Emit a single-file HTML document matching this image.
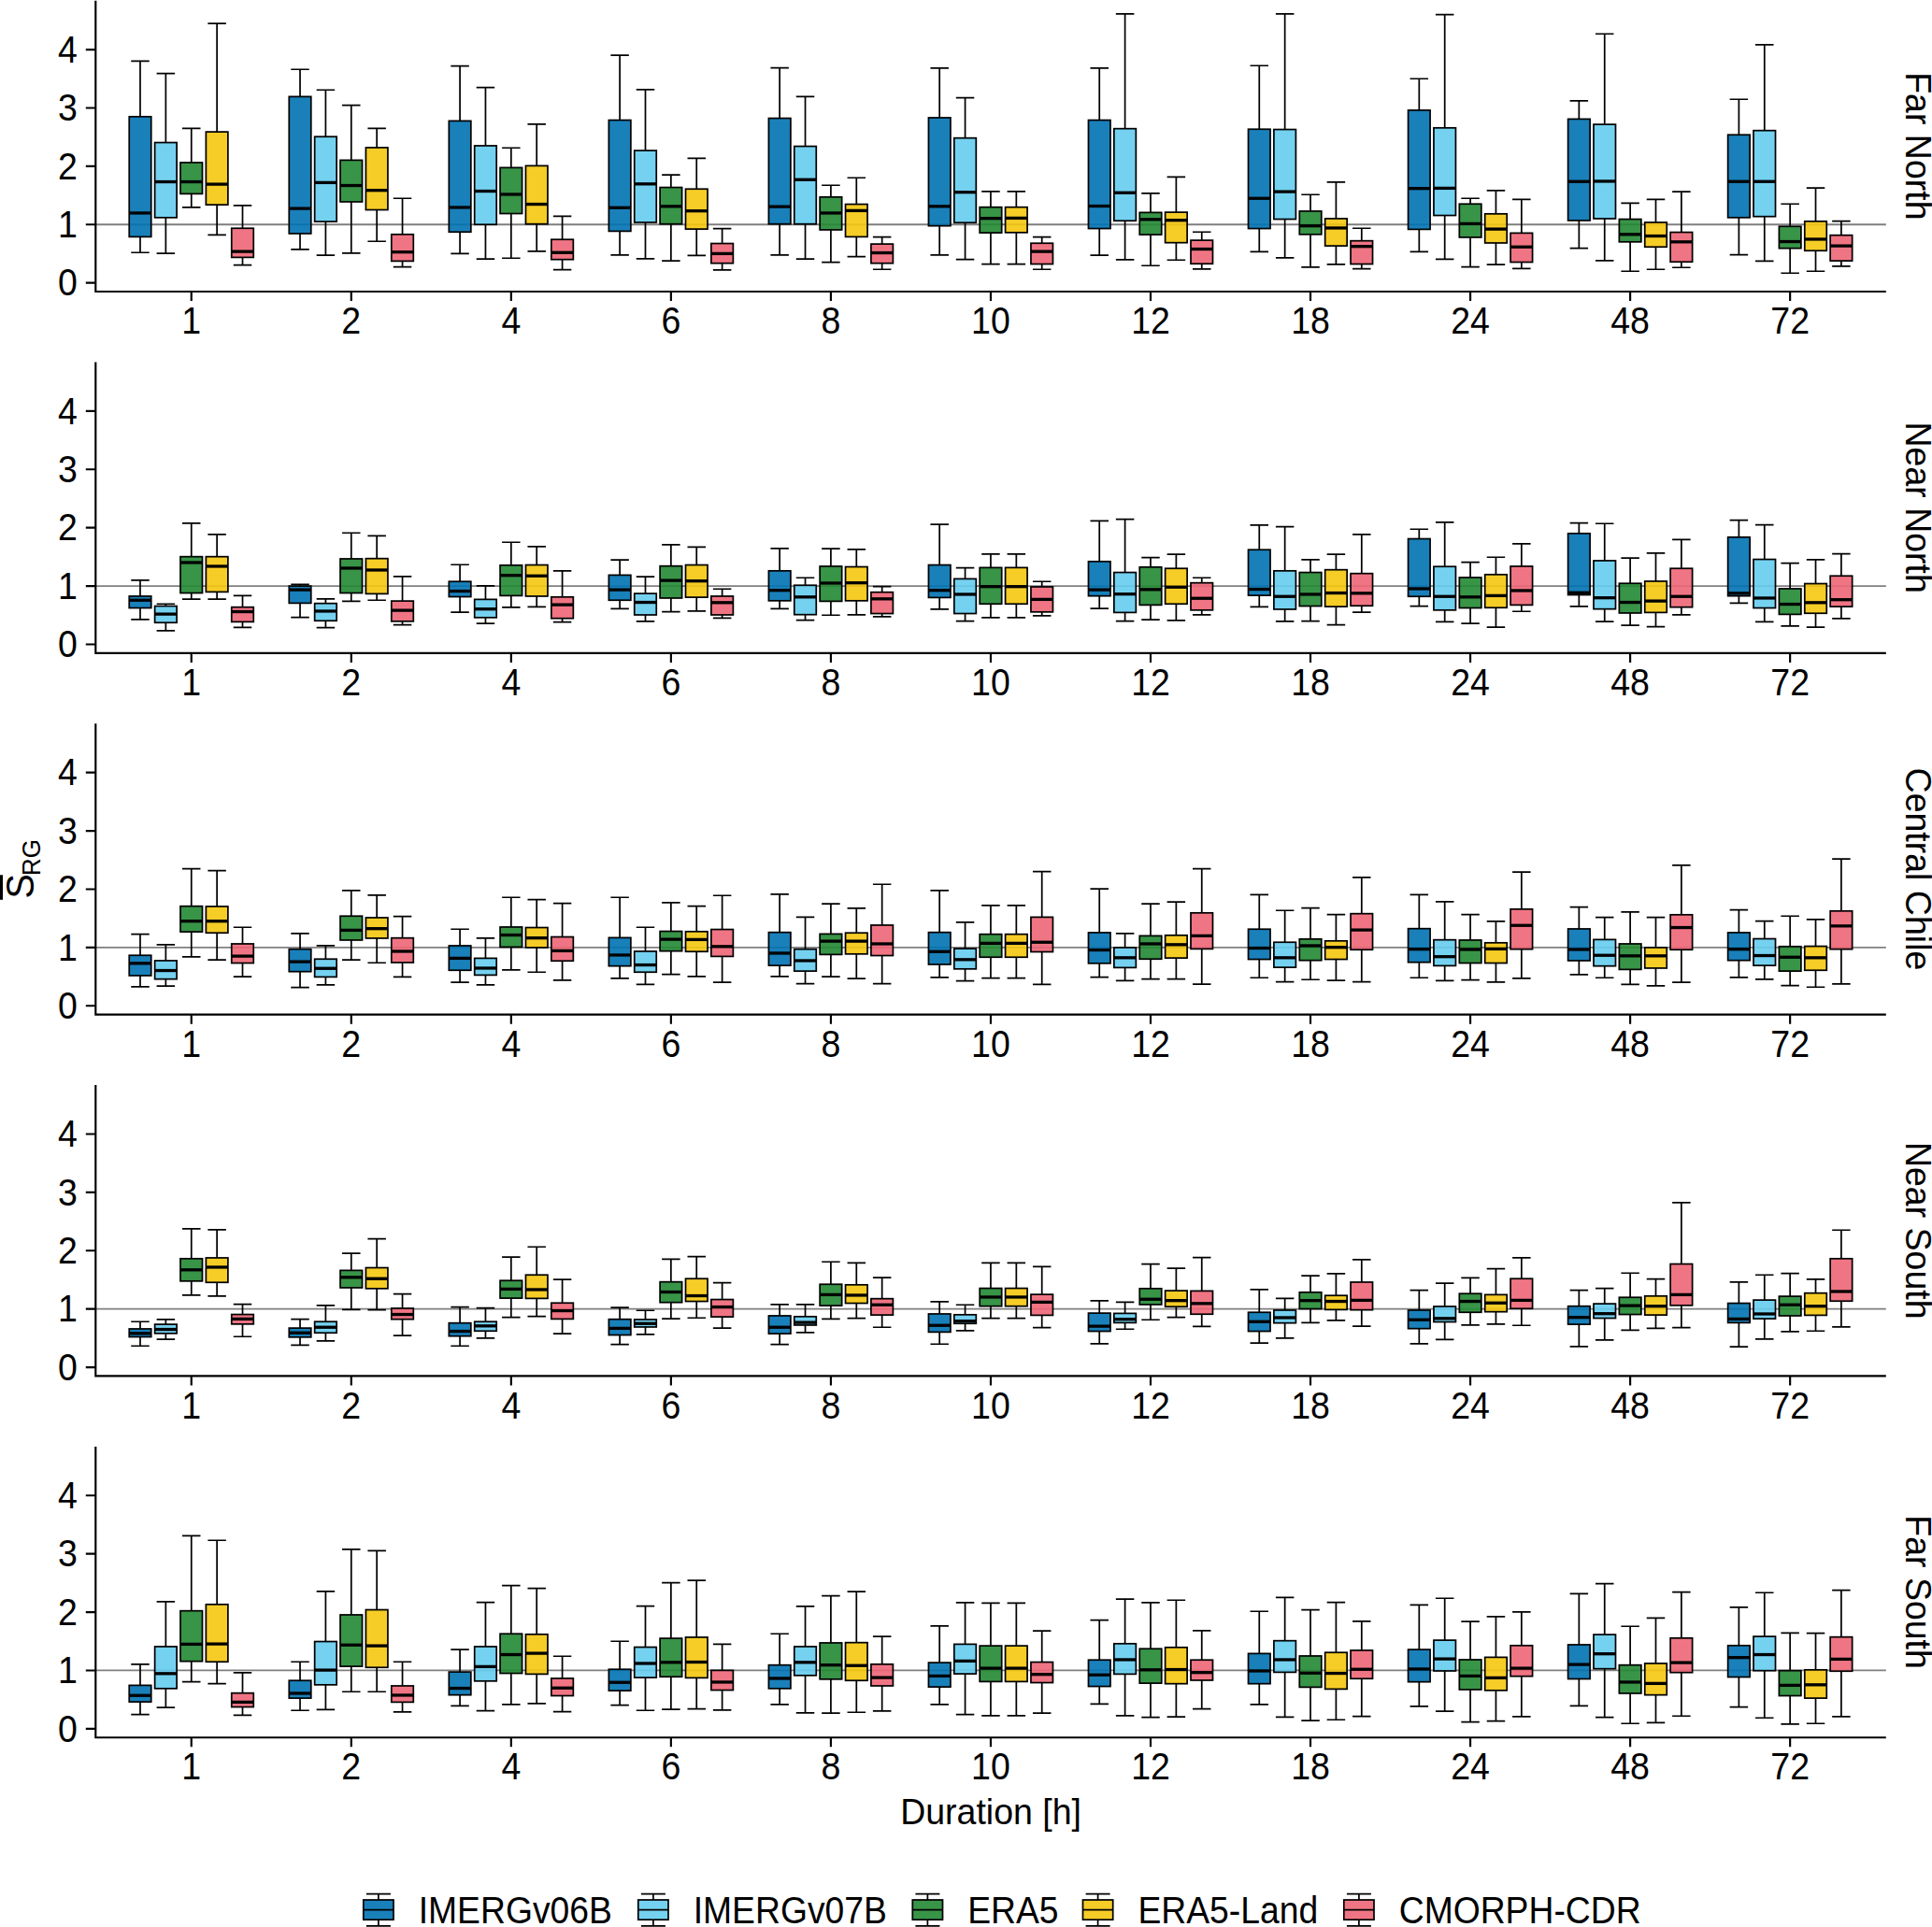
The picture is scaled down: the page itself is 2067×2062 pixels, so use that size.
<!DOCTYPE html>
<html><head><meta charset="utf-8"><title>Boxplots</title>
<style>html,body{margin:0;padding:0;background:#fff}svg{display:block}</style></head>
<body>
<svg width="2067" height="2062" viewBox="0 0 2067 2062" font-family='"Liberation Sans", sans-serif' font-size="37.5" fill="#000">
<rect width="2067" height="2062" fill="#fff"/>
<g>
<line x1="102.3" x2="2017.8" y1="240.25" y2="240.25" stroke="#7f7f7f" stroke-width="1.8"/>
<path d="M149.99 65.39V124.82M149.99 253.39V270.25M140.24 65.39H159.74M140.24 270.25H159.74" stroke="#000" stroke-width="1.72" fill="none"/>
<rect x="138.24" y="124.82" width="23.5" height="128.57" fill="#0072B2" fill-opacity="0.9" stroke="#000" stroke-width="1.72"/>
<line x1="138.24" x2="161.74" y1="227.96" y2="227.96" stroke="#000" stroke-width="3.3"/>
<path d="M177.37 78.54V152.54M177.37 232.82V271.11M167.62 78.54H187.12M167.62 271.11H187.12" stroke="#000" stroke-width="1.72" fill="none"/>
<rect x="165.62" y="152.54" width="23.5" height="80.29" fill="#66CCEE" fill-opacity="0.9" stroke="#000" stroke-width="1.72"/>
<line x1="165.62" x2="189.12" y1="194.54" y2="194.54" stroke="#000" stroke-width="3.3"/>
<path d="M204.75 137.39V173.96M204.75 207.39V221.96M195 137.39H214.5M195 221.96H214.5" stroke="#000" stroke-width="1.72" fill="none"/>
<rect x="193" y="173.96" width="23.5" height="33.43" fill="#228833" fill-opacity="0.9" stroke="#000" stroke-width="1.72"/>
<line x1="193" x2="216.5" y1="194.54" y2="194.54" stroke="#000" stroke-width="3.3"/>
<path d="M232.13 25.11V141.11M232.13 219.11V251.39M222.38 25.11H241.88M222.38 251.39H241.88" stroke="#000" stroke-width="1.72" fill="none"/>
<rect x="220.38" y="141.11" width="23.5" height="78" fill="#F5C710" fill-opacity="0.9" stroke="#000" stroke-width="1.72"/>
<line x1="220.38" x2="243.88" y1="197.11" y2="197.11" stroke="#000" stroke-width="3.3"/>
<path d="M259.51 219.96V244.25M259.51 275.39V283.68M249.76 219.96H269.26M249.76 283.68H269.26" stroke="#000" stroke-width="1.72" fill="none"/>
<rect x="247.76" y="244.25" width="23.5" height="31.14" fill="#EE6677" fill-opacity="0.9" stroke="#000" stroke-width="1.72"/>
<line x1="247.76" x2="271.26" y1="269.11" y2="269.11" stroke="#000" stroke-width="3.3"/>
<path d="M321.03 74.25V103.39M321.03 249.96V266.82M311.28 74.25H330.78M311.28 266.82H330.78" stroke="#000" stroke-width="1.72" fill="none"/>
<rect x="309.28" y="103.39" width="23.5" height="146.57" fill="#0072B2" fill-opacity="0.9" stroke="#000" stroke-width="1.72"/>
<line x1="309.28" x2="332.78" y1="223.11" y2="223.11" stroke="#000" stroke-width="3.3"/>
<path d="M348.41 96.25V146.25M348.41 237.11V273.11M338.66 96.25H358.16M338.66 273.11H358.16" stroke="#000" stroke-width="1.72" fill="none"/>
<rect x="336.66" y="146.25" width="23.5" height="90.86" fill="#66CCEE" fill-opacity="0.9" stroke="#000" stroke-width="1.72"/>
<line x1="336.66" x2="360.16" y1="195.39" y2="195.39" stroke="#000" stroke-width="3.3"/>
<path d="M375.79 112.54V171.39M375.79 215.96V270.82M366.04 112.54H385.54M366.04 270.82H385.54" stroke="#000" stroke-width="1.72" fill="none"/>
<rect x="364.04" y="171.39" width="23.5" height="44.57" fill="#228833" fill-opacity="0.9" stroke="#000" stroke-width="1.72"/>
<line x1="364.04" x2="387.54" y1="198.54" y2="198.54" stroke="#000" stroke-width="3.3"/>
<path d="M403.17 137.39V157.96M403.17 224.54V258.25M393.42 137.39H412.92M393.42 258.25H412.92" stroke="#000" stroke-width="1.72" fill="none"/>
<rect x="391.42" y="157.96" width="23.5" height="66.57" fill="#F5C710" fill-opacity="0.9" stroke="#000" stroke-width="1.72"/>
<line x1="391.42" x2="414.92" y1="203.68" y2="203.68" stroke="#000" stroke-width="3.3"/>
<path d="M430.55 212.25V250.82M430.55 279.39V285.68M420.8 212.25H440.3M420.8 285.68H440.3" stroke="#000" stroke-width="1.72" fill="none"/>
<rect x="418.8" y="250.82" width="23.5" height="28.57" fill="#EE6677" fill-opacity="0.9" stroke="#000" stroke-width="1.72"/>
<line x1="418.8" x2="442.3" y1="269.68" y2="269.68" stroke="#000" stroke-width="3.3"/>
<path d="M492.07 70.54V129.39M492.07 248.25V271.39M482.32 70.54H501.82M482.32 271.39H501.82" stroke="#000" stroke-width="1.72" fill="none"/>
<rect x="480.32" y="129.39" width="23.5" height="118.86" fill="#0072B2" fill-opacity="0.9" stroke="#000" stroke-width="1.72"/>
<line x1="480.32" x2="503.82" y1="221.96" y2="221.96" stroke="#000" stroke-width="3.3"/>
<path d="M519.45 93.68V155.96M519.45 240.25V277.11M509.7 93.68H529.2M509.7 277.11H529.2" stroke="#000" stroke-width="1.72" fill="none"/>
<rect x="507.7" y="155.96" width="23.5" height="84.29" fill="#66CCEE" fill-opacity="0.9" stroke="#000" stroke-width="1.72"/>
<line x1="507.7" x2="531.2" y1="204.54" y2="204.54" stroke="#000" stroke-width="3.3"/>
<path d="M546.83 158.25V179.39M546.83 228.54V276.25M537.08 158.25H556.58M537.08 276.25H556.58" stroke="#000" stroke-width="1.72" fill="none"/>
<rect x="535.08" y="179.39" width="23.5" height="49.14" fill="#228833" fill-opacity="0.9" stroke="#000" stroke-width="1.72"/>
<line x1="535.08" x2="558.58" y1="207.96" y2="207.96" stroke="#000" stroke-width="3.3"/>
<path d="M574.21 132.82V177.39M574.21 239.68V268.82M564.46 132.82H583.96M564.46 268.82H583.96" stroke="#000" stroke-width="1.72" fill="none"/>
<rect x="562.46" y="177.39" width="23.5" height="62.29" fill="#F5C710" fill-opacity="0.9" stroke="#000" stroke-width="1.72"/>
<line x1="562.46" x2="585.96" y1="218.54" y2="218.54" stroke="#000" stroke-width="3.3"/>
<path d="M601.59 231.39V256.25M601.59 277.68V288.54M591.84 231.39H611.34M591.84 288.54H611.34" stroke="#000" stroke-width="1.72" fill="none"/>
<rect x="589.84" y="256.25" width="23.5" height="21.43" fill="#EE6677" fill-opacity="0.9" stroke="#000" stroke-width="1.72"/>
<line x1="589.84" x2="613.34" y1="270.25" y2="270.25" stroke="#000" stroke-width="3.3"/>
<path d="M663.11 59.11V128.54M663.11 247.39V272.82M653.36 59.11H672.86M653.36 272.82H672.86" stroke="#000" stroke-width="1.72" fill="none"/>
<rect x="651.36" y="128.54" width="23.5" height="118.86" fill="#0072B2" fill-opacity="0.9" stroke="#000" stroke-width="1.72"/>
<line x1="651.36" x2="674.86" y1="222.25" y2="222.25" stroke="#000" stroke-width="3.3"/>
<path d="M690.49 95.96V161.11M690.49 237.96V276.82M680.74 95.96H700.24M680.74 276.82H700.24" stroke="#000" stroke-width="1.72" fill="none"/>
<rect x="678.74" y="161.11" width="23.5" height="76.86" fill="#66CCEE" fill-opacity="0.9" stroke="#000" stroke-width="1.72"/>
<line x1="678.74" x2="702.24" y1="196.82" y2="196.82" stroke="#000" stroke-width="3.3"/>
<path d="M717.87 187.11V200.54M717.87 239.68V279.11M708.12 187.11H727.62M708.12 279.11H727.62" stroke="#000" stroke-width="1.72" fill="none"/>
<rect x="706.12" y="200.54" width="23.5" height="39.14" fill="#228833" fill-opacity="0.9" stroke="#000" stroke-width="1.72"/>
<line x1="706.12" x2="729.62" y1="220.82" y2="220.82" stroke="#000" stroke-width="3.3"/>
<path d="M745.25 169.39V202.25M745.25 245.11V273.39M735.5 169.39H755M735.5 273.39H755" stroke="#000" stroke-width="1.72" fill="none"/>
<rect x="733.5" y="202.25" width="23.5" height="42.86" fill="#F5C710" fill-opacity="0.9" stroke="#000" stroke-width="1.72"/>
<line x1="733.5" x2="757" y1="225.68" y2="225.68" stroke="#000" stroke-width="3.3"/>
<path d="M772.63 244.54V260.54M772.63 281.68V288.82M762.88 244.54H782.38M762.88 288.82H782.38" stroke="#000" stroke-width="1.72" fill="none"/>
<rect x="760.88" y="260.54" width="23.5" height="21.14" fill="#EE6677" fill-opacity="0.9" stroke="#000" stroke-width="1.72"/>
<line x1="760.88" x2="784.38" y1="271.39" y2="271.39" stroke="#000" stroke-width="3.3"/>
<path d="M834.15 72.54V126.54M834.15 239.68V272.82M824.4 72.54H843.9M824.4 272.82H843.9" stroke="#000" stroke-width="1.72" fill="none"/>
<rect x="822.4" y="126.54" width="23.5" height="113.14" fill="#0072B2" fill-opacity="0.9" stroke="#000" stroke-width="1.72"/>
<line x1="822.4" x2="845.9" y1="221.11" y2="221.11" stroke="#000" stroke-width="3.3"/>
<path d="M861.53 103.39V156.54M861.53 239.68V277.11M851.78 103.39H871.28M851.78 277.11H871.28" stroke="#000" stroke-width="1.72" fill="none"/>
<rect x="849.78" y="156.54" width="23.5" height="83.14" fill="#66CCEE" fill-opacity="0.9" stroke="#000" stroke-width="1.72"/>
<line x1="849.78" x2="873.28" y1="192.25" y2="192.25" stroke="#000" stroke-width="3.3"/>
<path d="M888.91 198.25V210.82M888.91 245.96V280.54M879.16 198.25H898.66M879.16 280.54H898.66" stroke="#000" stroke-width="1.72" fill="none"/>
<rect x="877.16" y="210.82" width="23.5" height="35.14" fill="#228833" fill-opacity="0.9" stroke="#000" stroke-width="1.72"/>
<line x1="877.16" x2="900.66" y1="227.96" y2="227.96" stroke="#000" stroke-width="3.3"/>
<path d="M916.29 190.25V218.54M916.29 253.39V274.54M906.54 190.25H926.04M906.54 274.54H926.04" stroke="#000" stroke-width="1.72" fill="none"/>
<rect x="904.54" y="218.54" width="23.5" height="34.86" fill="#F5C710" fill-opacity="0.9" stroke="#000" stroke-width="1.72"/>
<line x1="904.54" x2="928.04" y1="225.39" y2="225.39" stroke="#000" stroke-width="3.3"/>
<path d="M943.67 253.68V261.11M943.67 281.68V288.25M933.92 253.68H953.42M933.92 288.25H953.42" stroke="#000" stroke-width="1.72" fill="none"/>
<rect x="931.92" y="261.11" width="23.5" height="20.57" fill="#EE6677" fill-opacity="0.9" stroke="#000" stroke-width="1.72"/>
<line x1="931.92" x2="955.42" y1="270.54" y2="270.54" stroke="#000" stroke-width="3.3"/>
<path d="M1005.19 72.82V125.96M1005.19 241.68V272.82M995.44 72.82H1014.94M995.44 272.82H1014.94" stroke="#000" stroke-width="1.72" fill="none"/>
<rect x="993.44" y="125.96" width="23.5" height="115.71" fill="#0072B2" fill-opacity="0.9" stroke="#000" stroke-width="1.72"/>
<line x1="993.44" x2="1016.94" y1="220.82" y2="220.82" stroke="#000" stroke-width="3.3"/>
<path d="M1032.57 104.54V147.68M1032.57 238.25V277.68M1022.82 104.54H1042.32M1022.82 277.68H1042.32" stroke="#000" stroke-width="1.72" fill="none"/>
<rect x="1020.82" y="147.68" width="23.5" height="90.57" fill="#66CCEE" fill-opacity="0.9" stroke="#000" stroke-width="1.72"/>
<line x1="1020.82" x2="1044.32" y1="205.68" y2="205.68" stroke="#000" stroke-width="3.3"/>
<path d="M1059.95 204.82V221.68M1059.95 249.11V282.54M1050.2 204.82H1069.7M1050.2 282.54H1069.7" stroke="#000" stroke-width="1.72" fill="none"/>
<rect x="1048.2" y="221.68" width="23.5" height="27.43" fill="#228833" fill-opacity="0.9" stroke="#000" stroke-width="1.72"/>
<line x1="1048.2" x2="1071.7" y1="233.68" y2="233.68" stroke="#000" stroke-width="3.3"/>
<path d="M1087.33 204.82V221.68M1087.33 248.82V282.54M1077.58 204.82H1097.08M1077.58 282.54H1097.08" stroke="#000" stroke-width="1.72" fill="none"/>
<rect x="1075.58" y="221.68" width="23.5" height="27.14" fill="#F5C710" fill-opacity="0.9" stroke="#000" stroke-width="1.72"/>
<line x1="1075.58" x2="1099.08" y1="233.39" y2="233.39" stroke="#000" stroke-width="3.3"/>
<path d="M1114.71 253.68V260.25M1114.71 282.54V288.25M1104.96 253.68H1124.46M1104.96 288.25H1124.46" stroke="#000" stroke-width="1.72" fill="none"/>
<rect x="1102.96" y="260.25" width="23.5" height="22.29" fill="#EE6677" fill-opacity="0.9" stroke="#000" stroke-width="1.72"/>
<line x1="1102.96" x2="1126.46" y1="269.11" y2="269.11" stroke="#000" stroke-width="3.3"/>
<path d="M1176.23 72.82V128.54M1176.23 244.54V273.11M1166.48 72.82H1185.98M1166.48 273.11H1185.98" stroke="#000" stroke-width="1.72" fill="none"/>
<rect x="1164.48" y="128.54" width="23.5" height="116" fill="#0072B2" fill-opacity="0.9" stroke="#000" stroke-width="1.72"/>
<line x1="1164.48" x2="1187.98" y1="220.54" y2="220.54" stroke="#000" stroke-width="3.3"/>
<path d="M1203.61 14.82V137.68M1203.61 236.25V277.96M1193.86 14.82H1213.36M1193.86 277.96H1213.36" stroke="#000" stroke-width="1.72" fill="none"/>
<rect x="1191.86" y="137.68" width="23.5" height="98.57" fill="#66CCEE" fill-opacity="0.9" stroke="#000" stroke-width="1.72"/>
<line x1="1191.86" x2="1215.36" y1="206.25" y2="206.25" stroke="#000" stroke-width="3.3"/>
<path d="M1230.99 206.82V227.39M1230.99 251.11V284.25M1221.24 206.82H1240.74M1221.24 284.25H1240.74" stroke="#000" stroke-width="1.72" fill="none"/>
<rect x="1219.24" y="227.39" width="23.5" height="23.71" fill="#228833" fill-opacity="0.9" stroke="#000" stroke-width="1.72"/>
<line x1="1219.24" x2="1242.74" y1="234.82" y2="234.82" stroke="#000" stroke-width="3.3"/>
<path d="M1258.37 189.39V227.11M1258.37 259.68V278.25M1248.62 189.39H1268.12M1248.62 278.25H1268.12" stroke="#000" stroke-width="1.72" fill="none"/>
<rect x="1246.62" y="227.11" width="23.5" height="32.57" fill="#F5C710" fill-opacity="0.9" stroke="#000" stroke-width="1.72"/>
<line x1="1246.62" x2="1270.12" y1="235.68" y2="235.68" stroke="#000" stroke-width="3.3"/>
<path d="M1285.75 248.25V257.11M1285.75 282.25V287.96M1276 248.25H1295.5M1276 287.96H1295.5" stroke="#000" stroke-width="1.72" fill="none"/>
<rect x="1274" y="257.11" width="23.5" height="25.14" fill="#EE6677" fill-opacity="0.9" stroke="#000" stroke-width="1.72"/>
<line x1="1274" x2="1297.5" y1="266.54" y2="266.54" stroke="#000" stroke-width="3.3"/>
<path d="M1347.27 70.25V138.25M1347.27 244.54V269.39M1337.52 70.25H1357.02M1337.52 269.39H1357.02" stroke="#000" stroke-width="1.72" fill="none"/>
<rect x="1335.52" y="138.25" width="23.5" height="106.29" fill="#0072B2" fill-opacity="0.9" stroke="#000" stroke-width="1.72"/>
<line x1="1335.52" x2="1359.02" y1="212.25" y2="212.25" stroke="#000" stroke-width="3.3"/>
<path d="M1374.65 14.82V138.54M1374.65 234.54V275.96M1364.9 14.82H1384.4M1364.9 275.96H1384.4" stroke="#000" stroke-width="1.72" fill="none"/>
<rect x="1362.9" y="138.54" width="23.5" height="96" fill="#66CCEE" fill-opacity="0.9" stroke="#000" stroke-width="1.72"/>
<line x1="1362.9" x2="1386.4" y1="205.11" y2="205.11" stroke="#000" stroke-width="3.3"/>
<path d="M1402.03 208.25V225.96M1402.03 250.82V285.96M1392.28 208.25H1411.78M1392.28 285.96H1411.78" stroke="#000" stroke-width="1.72" fill="none"/>
<rect x="1390.28" y="225.96" width="23.5" height="24.86" fill="#228833" fill-opacity="0.9" stroke="#000" stroke-width="1.72"/>
<line x1="1390.28" x2="1413.78" y1="241.68" y2="241.68" stroke="#000" stroke-width="3.3"/>
<path d="M1429.41 194.82V233.96M1429.41 263.11V282.82M1419.66 194.82H1439.16M1419.66 282.82H1439.16" stroke="#000" stroke-width="1.72" fill="none"/>
<rect x="1417.66" y="233.96" width="23.5" height="29.14" fill="#F5C710" fill-opacity="0.9" stroke="#000" stroke-width="1.72"/>
<line x1="1417.66" x2="1441.16" y1="243.96" y2="243.96" stroke="#000" stroke-width="3.3"/>
<path d="M1456.79 244.25V257.68M1456.79 282.54V287.68M1447.04 244.25H1466.54M1447.04 287.68H1466.54" stroke="#000" stroke-width="1.72" fill="none"/>
<rect x="1445.04" y="257.68" width="23.5" height="24.86" fill="#EE6677" fill-opacity="0.9" stroke="#000" stroke-width="1.72"/>
<line x1="1445.04" x2="1468.54" y1="263.68" y2="263.68" stroke="#000" stroke-width="3.3"/>
<path d="M1518.31 84.25V117.96M1518.31 245.39V269.39M1508.56 84.25H1528.06M1508.56 269.39H1528.06" stroke="#000" stroke-width="1.72" fill="none"/>
<rect x="1506.56" y="117.96" width="23.5" height="127.43" fill="#0072B2" fill-opacity="0.9" stroke="#000" stroke-width="1.72"/>
<line x1="1506.56" x2="1530.06" y1="201.68" y2="201.68" stroke="#000" stroke-width="3.3"/>
<path d="M1545.69 15.68V136.82M1545.69 230.54V277.39M1535.94 15.68H1555.44M1535.94 277.39H1555.44" stroke="#000" stroke-width="1.72" fill="none"/>
<rect x="1533.94" y="136.82" width="23.5" height="93.71" fill="#66CCEE" fill-opacity="0.9" stroke="#000" stroke-width="1.72"/>
<line x1="1533.94" x2="1557.44" y1="201.39" y2="201.39" stroke="#000" stroke-width="3.3"/>
<path d="M1573.07 212.25V218.25M1573.07 253.96V285.68M1563.32 212.25H1582.82M1563.32 285.68H1582.82" stroke="#000" stroke-width="1.72" fill="none"/>
<rect x="1561.32" y="218.25" width="23.5" height="35.71" fill="#228833" fill-opacity="0.9" stroke="#000" stroke-width="1.72"/>
<line x1="1561.32" x2="1584.82" y1="239.39" y2="239.39" stroke="#000" stroke-width="3.3"/>
<path d="M1600.45 203.96V228.82M1600.45 259.96V283.11M1590.7 203.96H1610.2M1590.7 283.11H1610.2" stroke="#000" stroke-width="1.72" fill="none"/>
<rect x="1588.7" y="228.82" width="23.5" height="31.14" fill="#F5C710" fill-opacity="0.9" stroke="#000" stroke-width="1.72"/>
<line x1="1588.7" x2="1612.2" y1="245.11" y2="245.11" stroke="#000" stroke-width="3.3"/>
<path d="M1627.83 213.39V249.39M1627.83 280.54V287.39M1618.08 213.39H1637.58M1618.08 287.39H1637.58" stroke="#000" stroke-width="1.72" fill="none"/>
<rect x="1616.08" y="249.39" width="23.5" height="31.14" fill="#EE6677" fill-opacity="0.9" stroke="#000" stroke-width="1.72"/>
<line x1="1616.08" x2="1639.58" y1="264.25" y2="264.25" stroke="#000" stroke-width="3.3"/>
<path d="M1689.35 107.96V127.39M1689.35 235.96V265.68M1679.6 107.96H1699.1M1679.6 265.68H1699.1" stroke="#000" stroke-width="1.72" fill="none"/>
<rect x="1677.6" y="127.39" width="23.5" height="108.57" fill="#0072B2" fill-opacity="0.9" stroke="#000" stroke-width="1.72"/>
<line x1="1677.6" x2="1701.1" y1="194.25" y2="194.25" stroke="#000" stroke-width="3.3"/>
<path d="M1716.73 36.25V133.11M1716.73 233.96V278.82M1706.98 36.25H1726.48M1706.98 278.82H1726.48" stroke="#000" stroke-width="1.72" fill="none"/>
<rect x="1704.98" y="133.11" width="23.5" height="100.86" fill="#66CCEE" fill-opacity="0.9" stroke="#000" stroke-width="1.72"/>
<line x1="1704.98" x2="1728.48" y1="193.96" y2="193.96" stroke="#000" stroke-width="3.3"/>
<path d="M1744.11 217.39V234.54M1744.11 258.82V290.25M1734.36 217.39H1753.86M1734.36 290.25H1753.86" stroke="#000" stroke-width="1.72" fill="none"/>
<rect x="1732.36" y="234.54" width="23.5" height="24.29" fill="#228833" fill-opacity="0.9" stroke="#000" stroke-width="1.72"/>
<line x1="1732.36" x2="1755.86" y1="250.82" y2="250.82" stroke="#000" stroke-width="3.3"/>
<path d="M1771.49 213.39V237.96M1771.49 264.25V288.25M1761.74 213.39H1781.24M1761.74 288.25H1781.24" stroke="#000" stroke-width="1.72" fill="none"/>
<rect x="1759.74" y="237.96" width="23.5" height="26.29" fill="#F5C710" fill-opacity="0.9" stroke="#000" stroke-width="1.72"/>
<line x1="1759.74" x2="1783.24" y1="252.54" y2="252.54" stroke="#000" stroke-width="3.3"/>
<path d="M1798.87 205.11V248.54M1798.87 280.25V286.25M1789.12 205.11H1808.62M1789.12 286.25H1808.62" stroke="#000" stroke-width="1.72" fill="none"/>
<rect x="1787.12" y="248.54" width="23.5" height="31.71" fill="#EE6677" fill-opacity="0.9" stroke="#000" stroke-width="1.72"/>
<line x1="1787.12" x2="1810.62" y1="258.82" y2="258.82" stroke="#000" stroke-width="3.3"/>
<path d="M1860.39 106.25V144.25M1860.39 232.82V272.54M1850.64 106.25H1870.14M1850.64 272.54H1870.14" stroke="#000" stroke-width="1.72" fill="none"/>
<rect x="1848.64" y="144.25" width="23.5" height="88.57" fill="#0072B2" fill-opacity="0.9" stroke="#000" stroke-width="1.72"/>
<line x1="1848.64" x2="1872.14" y1="194.25" y2="194.25" stroke="#000" stroke-width="3.3"/>
<path d="M1887.77 47.96V139.68M1887.77 231.68V279.39M1878.02 47.96H1897.52M1878.02 279.39H1897.52" stroke="#000" stroke-width="1.72" fill="none"/>
<rect x="1876.02" y="139.68" width="23.5" height="92" fill="#66CCEE" fill-opacity="0.9" stroke="#000" stroke-width="1.72"/>
<line x1="1876.02" x2="1899.52" y1="194.25" y2="194.25" stroke="#000" stroke-width="3.3"/>
<path d="M1915.15 218.25V242.25M1915.15 265.68V292.25M1905.4 218.25H1924.9M1905.4 292.25H1924.9" stroke="#000" stroke-width="1.72" fill="none"/>
<rect x="1903.4" y="242.25" width="23.5" height="23.43" fill="#228833" fill-opacity="0.9" stroke="#000" stroke-width="1.72"/>
<line x1="1903.4" x2="1926.9" y1="258.54" y2="258.54" stroke="#000" stroke-width="3.3"/>
<path d="M1942.53 201.11V236.82M1942.53 268.25V290.25M1932.78 201.11H1952.28M1932.78 290.25H1952.28" stroke="#000" stroke-width="1.72" fill="none"/>
<rect x="1930.78" y="236.82" width="23.5" height="31.43" fill="#F5C710" fill-opacity="0.9" stroke="#000" stroke-width="1.72"/>
<line x1="1930.78" x2="1954.28" y1="255.96" y2="255.96" stroke="#000" stroke-width="3.3"/>
<path d="M1969.91 236.54V251.68M1969.91 279.11V284.82M1960.16 236.54H1979.66M1960.16 284.82H1979.66" stroke="#000" stroke-width="1.72" fill="none"/>
<rect x="1958.16" y="251.68" width="23.5" height="27.43" fill="#EE6677" fill-opacity="0.9" stroke="#000" stroke-width="1.72"/>
<line x1="1958.16" x2="1981.66" y1="263.11" y2="263.11" stroke="#000" stroke-width="3.3"/>
<path d="M102.3 0.7V312H2017.8" stroke="#000" stroke-width="2.15" fill="none" stroke-linejoin="miter"/>
<path d="M91.8 302.65H102.3M91.8 240.25H102.3M91.8 177.85H102.3M91.8 115.45H102.3M91.8 53.05H102.3M204.75 312V322.1M375.79 312V322.1M546.83 312V322.1M717.87 312V322.1M888.91 312V322.1M1059.95 312V322.1M1230.99 312V322.1M1402.03 312V322.1M1573.07 312V322.1M1744.11 312V322.1M1915.15 312V322.1" stroke="#000" stroke-width="2.15" fill="none"/>
<text transform="translate(82.8 316.45) scale(1 1.06)" text-anchor="end">0</text>
<text transform="translate(82.8 254.05) scale(1 1.06)" text-anchor="end">1</text>
<text transform="translate(82.8 191.65) scale(1 1.06)" text-anchor="end">2</text>
<text transform="translate(82.8 129.25) scale(1 1.06)" text-anchor="end">3</text>
<text transform="translate(82.8 66.85) scale(1 1.06)" text-anchor="end">4</text>
<text transform="translate(204.75 357.1) scale(1 1.06)" text-anchor="middle">1</text>
<text transform="translate(375.79 357.1) scale(1 1.06)" text-anchor="middle">2</text>
<text transform="translate(546.83 357.1) scale(1 1.06)" text-anchor="middle">4</text>
<text transform="translate(717.87 357.1) scale(1 1.06)" text-anchor="middle">6</text>
<text transform="translate(888.91 357.1) scale(1 1.06)" text-anchor="middle">8</text>
<text transform="translate(1059.95 357.1) scale(1 1.06)" text-anchor="middle">10</text>
<text transform="translate(1230.99 357.1) scale(1 1.06)" text-anchor="middle">12</text>
<text transform="translate(1402.03 357.1) scale(1 1.06)" text-anchor="middle">18</text>
<text transform="translate(1573.07 357.1) scale(1 1.06)" text-anchor="middle">24</text>
<text transform="translate(1744.11 357.1) scale(1 1.06)" text-anchor="middle">48</text>
<text transform="translate(1915.15 357.1) scale(1 1.06)" text-anchor="middle">72</text>
<text transform="translate(2038.9 156.35) rotate(90) scale(1 1.035)" text-anchor="middle">Far North</text>
</g>
<g>
<line x1="102.3" x2="2017.8" y1="627.05" y2="627.05" stroke="#7f7f7f" stroke-width="1.8"/>
<path d="M149.99 620.82V637.96M149.99 650.54V662.82M140.24 620.82H159.74M140.24 662.82H159.74" stroke="#000" stroke-width="1.72" fill="none"/>
<rect x="138.24" y="637.96" width="23.5" height="12.57" fill="#0072B2" fill-opacity="0.9" stroke="#000" stroke-width="1.72"/>
<line x1="138.24" x2="161.74" y1="642.25" y2="642.25" stroke="#000" stroke-width="3.3"/>
<path d="M177.37 646.25V648.54M177.37 666.25V674.82M167.62 646.25H187.12M167.62 674.82H187.12" stroke="#000" stroke-width="1.72" fill="none"/>
<rect x="165.62" y="648.54" width="23.5" height="17.71" fill="#66CCEE" fill-opacity="0.9" stroke="#000" stroke-width="1.72"/>
<line x1="165.62" x2="189.12" y1="657.11" y2="657.11" stroke="#000" stroke-width="3.3"/>
<path d="M204.75 559.96V595.68M204.75 634.54V641.11M195 559.96H214.5M195 641.11H214.5" stroke="#000" stroke-width="1.72" fill="none"/>
<rect x="193" y="595.68" width="23.5" height="38.86" fill="#228833" fill-opacity="0.9" stroke="#000" stroke-width="1.72"/>
<line x1="193" x2="216.5" y1="601.96" y2="601.96" stroke="#000" stroke-width="3.3"/>
<path d="M232.13 571.96V595.68M232.13 633.39V641.11M222.38 571.96H241.88M222.38 641.11H241.88" stroke="#000" stroke-width="1.72" fill="none"/>
<rect x="220.38" y="595.68" width="23.5" height="37.71" fill="#F5C710" fill-opacity="0.9" stroke="#000" stroke-width="1.72"/>
<line x1="220.38" x2="243.88" y1="605.96" y2="605.96" stroke="#000" stroke-width="3.3"/>
<path d="M259.51 637.39V649.68M259.51 665.39V671.39M249.76 637.39H269.26M249.76 671.39H269.26" stroke="#000" stroke-width="1.72" fill="none"/>
<rect x="247.76" y="649.68" width="23.5" height="15.71" fill="#EE6677" fill-opacity="0.9" stroke="#000" stroke-width="1.72"/>
<line x1="247.76" x2="271.26" y1="654.54" y2="654.54" stroke="#000" stroke-width="3.3"/>
<path d="M321.03 625.39V627.11M321.03 645.39V660.54M311.28 625.39H330.78M311.28 660.54H330.78" stroke="#000" stroke-width="1.72" fill="none"/>
<rect x="309.28" y="627.11" width="23.5" height="18.29" fill="#0072B2" fill-opacity="0.9" stroke="#000" stroke-width="1.72"/>
<line x1="309.28" x2="332.78" y1="631.11" y2="631.11" stroke="#000" stroke-width="3.3"/>
<path d="M348.41 640.82V645.68M348.41 664.25V671.68M338.66 640.82H358.16M338.66 671.68H358.16" stroke="#000" stroke-width="1.72" fill="none"/>
<rect x="336.66" y="645.68" width="23.5" height="18.57" fill="#66CCEE" fill-opacity="0.9" stroke="#000" stroke-width="1.72"/>
<line x1="336.66" x2="360.16" y1="653.96" y2="653.96" stroke="#000" stroke-width="3.3"/>
<path d="M375.79 570.25V597.96M375.79 634.54V643.39M366.04 570.25H385.54M366.04 643.39H385.54" stroke="#000" stroke-width="1.72" fill="none"/>
<rect x="364.04" y="597.96" width="23.5" height="36.57" fill="#228833" fill-opacity="0.9" stroke="#000" stroke-width="1.72"/>
<line x1="364.04" x2="387.54" y1="607.96" y2="607.96" stroke="#000" stroke-width="3.3"/>
<path d="M403.17 573.39V597.68M403.17 635.39V642.25M393.42 573.39H412.92M393.42 642.25H412.92" stroke="#000" stroke-width="1.72" fill="none"/>
<rect x="391.42" y="597.68" width="23.5" height="37.71" fill="#F5C710" fill-opacity="0.9" stroke="#000" stroke-width="1.72"/>
<line x1="391.42" x2="414.92" y1="609.96" y2="609.96" stroke="#000" stroke-width="3.3"/>
<path d="M430.55 616.82V643.11M430.55 664.82V668.54M420.8 616.82H440.3M420.8 668.54H440.3" stroke="#000" stroke-width="1.72" fill="none"/>
<rect x="418.8" y="643.11" width="23.5" height="21.71" fill="#EE6677" fill-opacity="0.9" stroke="#000" stroke-width="1.72"/>
<line x1="418.8" x2="442.3" y1="653.11" y2="653.11" stroke="#000" stroke-width="3.3"/>
<path d="M492.07 604.25V622.25M492.07 638.54V655.11M482.32 604.25H501.82M482.32 655.11H501.82" stroke="#000" stroke-width="1.72" fill="none"/>
<rect x="480.32" y="622.25" width="23.5" height="16.29" fill="#0072B2" fill-opacity="0.9" stroke="#000" stroke-width="1.72"/>
<line x1="480.32" x2="503.82" y1="632.54" y2="632.54" stroke="#000" stroke-width="3.3"/>
<path d="M519.45 626.82V641.39M519.45 660.82V667.11M509.7 626.82H529.2M509.7 667.11H529.2" stroke="#000" stroke-width="1.72" fill="none"/>
<rect x="507.7" y="641.39" width="23.5" height="19.43" fill="#66CCEE" fill-opacity="0.9" stroke="#000" stroke-width="1.72"/>
<line x1="507.7" x2="531.2" y1="651.68" y2="651.68" stroke="#000" stroke-width="3.3"/>
<path d="M546.83 580.25V604.82M546.83 637.39V649.96M537.08 580.25H556.58M537.08 649.96H556.58" stroke="#000" stroke-width="1.72" fill="none"/>
<rect x="535.08" y="604.82" width="23.5" height="32.57" fill="#228833" fill-opacity="0.9" stroke="#000" stroke-width="1.72"/>
<line x1="535.08" x2="558.58" y1="615.68" y2="615.68" stroke="#000" stroke-width="3.3"/>
<path d="M574.21 584.82V604.54M574.21 637.96V649.39M564.46 584.82H583.96M564.46 649.39H583.96" stroke="#000" stroke-width="1.72" fill="none"/>
<rect x="562.46" y="604.54" width="23.5" height="33.43" fill="#F5C710" fill-opacity="0.9" stroke="#000" stroke-width="1.72"/>
<line x1="562.46" x2="585.96" y1="616.25" y2="616.25" stroke="#000" stroke-width="3.3"/>
<path d="M601.59 610.82V638.82M601.59 661.68V665.68M591.84 610.82H611.34M591.84 665.68H611.34" stroke="#000" stroke-width="1.72" fill="none"/>
<rect x="589.84" y="638.82" width="23.5" height="22.86" fill="#EE6677" fill-opacity="0.9" stroke="#000" stroke-width="1.72"/>
<line x1="589.84" x2="613.34" y1="647.11" y2="647.11" stroke="#000" stroke-width="3.3"/>
<path d="M663.11 599.11V615.39M663.11 642.25V651.39M653.36 599.11H672.86M653.36 651.39H672.86" stroke="#000" stroke-width="1.72" fill="none"/>
<rect x="651.36" y="615.39" width="23.5" height="26.86" fill="#0072B2" fill-opacity="0.9" stroke="#000" stroke-width="1.72"/>
<line x1="651.36" x2="674.86" y1="631.11" y2="631.11" stroke="#000" stroke-width="3.3"/>
<path d="M690.49 617.11V635.11M690.49 657.96V664.82M680.74 617.11H700.24M680.74 664.82H700.24" stroke="#000" stroke-width="1.72" fill="none"/>
<rect x="678.74" y="635.11" width="23.5" height="22.86" fill="#66CCEE" fill-opacity="0.9" stroke="#000" stroke-width="1.72"/>
<line x1="678.74" x2="702.24" y1="644.54" y2="644.54" stroke="#000" stroke-width="3.3"/>
<path d="M717.87 582.82V605.68M717.87 639.96V654.54M708.12 582.82H727.62M708.12 654.54H727.62" stroke="#000" stroke-width="1.72" fill="none"/>
<rect x="706.12" y="605.68" width="23.5" height="34.29" fill="#228833" fill-opacity="0.9" stroke="#000" stroke-width="1.72"/>
<line x1="706.12" x2="729.62" y1="621.11" y2="621.11" stroke="#000" stroke-width="3.3"/>
<path d="M745.25 585.39V604.54M745.25 639.11V653.96M735.5 585.39H755M735.5 653.96H755" stroke="#000" stroke-width="1.72" fill="none"/>
<rect x="733.5" y="604.54" width="23.5" height="34.57" fill="#F5C710" fill-opacity="0.9" stroke="#000" stroke-width="1.72"/>
<line x1="733.5" x2="757" y1="621.68" y2="621.68" stroke="#000" stroke-width="3.3"/>
<path d="M772.63 630.25V637.96M772.63 657.96V661.39M762.88 630.25H782.38M762.88 661.39H782.38" stroke="#000" stroke-width="1.72" fill="none"/>
<rect x="760.88" y="637.96" width="23.5" height="20" fill="#EE6677" fill-opacity="0.9" stroke="#000" stroke-width="1.72"/>
<line x1="760.88" x2="784.38" y1="644.82" y2="644.82" stroke="#000" stroke-width="3.3"/>
<path d="M834.15 586.82V610.82M834.15 642.82V651.39M824.4 586.82H843.9M824.4 651.39H843.9" stroke="#000" stroke-width="1.72" fill="none"/>
<rect x="822.4" y="610.82" width="23.5" height="32" fill="#0072B2" fill-opacity="0.9" stroke="#000" stroke-width="1.72"/>
<line x1="822.4" x2="845.9" y1="631.68" y2="631.68" stroke="#000" stroke-width="3.3"/>
<path d="M861.53 618.25V626.25M861.53 657.68V663.68M851.78 618.25H871.28M851.78 663.68H871.28" stroke="#000" stroke-width="1.72" fill="none"/>
<rect x="849.78" y="626.25" width="23.5" height="31.43" fill="#66CCEE" fill-opacity="0.9" stroke="#000" stroke-width="1.72"/>
<line x1="849.78" x2="873.28" y1="638.82" y2="638.82" stroke="#000" stroke-width="3.3"/>
<path d="M888.91 587.11V605.96M888.91 643.39V658.25M879.16 587.11H898.66M879.16 658.25H898.66" stroke="#000" stroke-width="1.72" fill="none"/>
<rect x="877.16" y="605.96" width="23.5" height="37.43" fill="#228833" fill-opacity="0.9" stroke="#000" stroke-width="1.72"/>
<line x1="877.16" x2="900.66" y1="623.96" y2="623.96" stroke="#000" stroke-width="3.3"/>
<path d="M916.29 587.96V606.54M916.29 642.82V657.96M906.54 587.96H926.04M906.54 657.96H926.04" stroke="#000" stroke-width="1.72" fill="none"/>
<rect x="904.54" y="606.54" width="23.5" height="36.29" fill="#F5C710" fill-opacity="0.9" stroke="#000" stroke-width="1.72"/>
<line x1="904.54" x2="928.04" y1="623.68" y2="623.68" stroke="#000" stroke-width="3.3"/>
<path d="M943.67 627.68V633.68M943.67 656.54V659.96M933.92 627.68H953.42M933.92 659.96H953.42" stroke="#000" stroke-width="1.72" fill="none"/>
<rect x="931.92" y="633.68" width="23.5" height="22.86" fill="#EE6677" fill-opacity="0.9" stroke="#000" stroke-width="1.72"/>
<line x1="931.92" x2="955.42" y1="640.82" y2="640.82" stroke="#000" stroke-width="3.3"/>
<path d="M1005.19 561.11V604.54M1005.19 639.39V651.96M995.44 561.11H1014.94M995.44 651.96H1014.94" stroke="#000" stroke-width="1.72" fill="none"/>
<rect x="993.44" y="604.54" width="23.5" height="34.86" fill="#0072B2" fill-opacity="0.9" stroke="#000" stroke-width="1.72"/>
<line x1="993.44" x2="1016.94" y1="631.68" y2="631.68" stroke="#000" stroke-width="3.3"/>
<path d="M1032.57 607.68V619.39M1032.57 656.54V664.54M1022.82 607.68H1042.32M1022.82 664.54H1042.32" stroke="#000" stroke-width="1.72" fill="none"/>
<rect x="1020.82" y="619.39" width="23.5" height="37.14" fill="#66CCEE" fill-opacity="0.9" stroke="#000" stroke-width="1.72"/>
<line x1="1020.82" x2="1044.32" y1="635.96" y2="635.96" stroke="#000" stroke-width="3.3"/>
<path d="M1059.95 592.82V607.39M1059.95 646.25V660.82M1050.2 592.82H1069.7M1050.2 660.82H1069.7" stroke="#000" stroke-width="1.72" fill="none"/>
<rect x="1048.2" y="607.39" width="23.5" height="38.86" fill="#228833" fill-opacity="0.9" stroke="#000" stroke-width="1.72"/>
<line x1="1048.2" x2="1071.7" y1="627.68" y2="627.68" stroke="#000" stroke-width="3.3"/>
<path d="M1087.33 592.82V607.39M1087.33 646.25V660.82M1077.58 592.82H1097.08M1077.58 660.82H1097.08" stroke="#000" stroke-width="1.72" fill="none"/>
<rect x="1075.58" y="607.39" width="23.5" height="38.86" fill="#F5C710" fill-opacity="0.9" stroke="#000" stroke-width="1.72"/>
<line x1="1075.58" x2="1099.08" y1="627.68" y2="627.68" stroke="#000" stroke-width="3.3"/>
<path d="M1114.71 622.25V627.96M1114.71 654.82V658.82M1104.96 622.25H1124.46M1104.96 658.82H1124.46" stroke="#000" stroke-width="1.72" fill="none"/>
<rect x="1102.96" y="627.96" width="23.5" height="26.86" fill="#EE6677" fill-opacity="0.9" stroke="#000" stroke-width="1.72"/>
<line x1="1102.96" x2="1126.46" y1="641.39" y2="641.39" stroke="#000" stroke-width="3.3"/>
<path d="M1176.23 557.39V600.82M1176.23 637.68V651.11M1166.48 557.39H1185.98M1166.48 651.11H1185.98" stroke="#000" stroke-width="1.72" fill="none"/>
<rect x="1164.48" y="600.82" width="23.5" height="36.86" fill="#0072B2" fill-opacity="0.9" stroke="#000" stroke-width="1.72"/>
<line x1="1164.48" x2="1187.98" y1="631.11" y2="631.11" stroke="#000" stroke-width="3.3"/>
<path d="M1203.61 555.68V612.54M1203.61 655.39V664.54M1193.86 555.68H1213.36M1193.86 664.54H1213.36" stroke="#000" stroke-width="1.72" fill="none"/>
<rect x="1191.86" y="612.54" width="23.5" height="42.86" fill="#66CCEE" fill-opacity="0.9" stroke="#000" stroke-width="1.72"/>
<line x1="1191.86" x2="1215.36" y1="635.68" y2="635.68" stroke="#000" stroke-width="3.3"/>
<path d="M1230.99 596.54V606.82M1230.99 647.39V663.11M1221.24 596.54H1240.74M1221.24 663.11H1240.74" stroke="#000" stroke-width="1.72" fill="none"/>
<rect x="1219.24" y="606.82" width="23.5" height="40.57" fill="#228833" fill-opacity="0.9" stroke="#000" stroke-width="1.72"/>
<line x1="1219.24" x2="1242.74" y1="630.82" y2="630.82" stroke="#000" stroke-width="3.3"/>
<path d="M1258.37 593.11V608.25M1258.37 646.25V663.96M1248.62 593.11H1268.12M1248.62 663.96H1268.12" stroke="#000" stroke-width="1.72" fill="none"/>
<rect x="1246.62" y="608.25" width="23.5" height="38" fill="#F5C710" fill-opacity="0.9" stroke="#000" stroke-width="1.72"/>
<line x1="1246.62" x2="1270.12" y1="628.25" y2="628.25" stroke="#000" stroke-width="3.3"/>
<path d="M1285.75 618.25V623.68M1285.75 652.82V657.96M1276 618.25H1295.5M1276 657.96H1295.5" stroke="#000" stroke-width="1.72" fill="none"/>
<rect x="1274" y="623.68" width="23.5" height="29.14" fill="#EE6677" fill-opacity="0.9" stroke="#000" stroke-width="1.72"/>
<line x1="1274" x2="1297.5" y1="640.25" y2="640.25" stroke="#000" stroke-width="3.3"/>
<path d="M1347.27 561.96V588.25M1347.27 637.11V649.39M1337.52 561.96H1357.02M1337.52 649.39H1357.02" stroke="#000" stroke-width="1.72" fill="none"/>
<rect x="1335.52" y="588.25" width="23.5" height="48.86" fill="#0072B2" fill-opacity="0.9" stroke="#000" stroke-width="1.72"/>
<line x1="1335.52" x2="1359.02" y1="630.54" y2="630.54" stroke="#000" stroke-width="3.3"/>
<path d="M1374.65 563.68V610.82M1374.65 651.96V664.82M1364.9 563.68H1384.4M1364.9 664.82H1384.4" stroke="#000" stroke-width="1.72" fill="none"/>
<rect x="1362.9" y="610.82" width="23.5" height="41.14" fill="#66CCEE" fill-opacity="0.9" stroke="#000" stroke-width="1.72"/>
<line x1="1362.9" x2="1386.4" y1="638.25" y2="638.25" stroke="#000" stroke-width="3.3"/>
<path d="M1402.03 598.82V612.54M1402.03 648.54V664.54M1392.28 598.82H1411.78M1392.28 664.54H1411.78" stroke="#000" stroke-width="1.72" fill="none"/>
<rect x="1390.28" y="612.54" width="23.5" height="36" fill="#228833" fill-opacity="0.9" stroke="#000" stroke-width="1.72"/>
<line x1="1390.28" x2="1413.78" y1="635.96" y2="635.96" stroke="#000" stroke-width="3.3"/>
<path d="M1429.41 593.11V609.68M1429.41 649.11V668.54M1419.66 593.11H1439.16M1419.66 668.54H1439.16" stroke="#000" stroke-width="1.72" fill="none"/>
<rect x="1417.66" y="609.68" width="23.5" height="39.43" fill="#F5C710" fill-opacity="0.9" stroke="#000" stroke-width="1.72"/>
<line x1="1417.66" x2="1441.16" y1="634.54" y2="634.54" stroke="#000" stroke-width="3.3"/>
<path d="M1456.79 571.96V613.68M1456.79 648.25V655.11M1447.04 571.96H1466.54M1447.04 655.11H1466.54" stroke="#000" stroke-width="1.72" fill="none"/>
<rect x="1445.04" y="613.68" width="23.5" height="34.57" fill="#EE6677" fill-opacity="0.9" stroke="#000" stroke-width="1.72"/>
<line x1="1445.04" x2="1468.54" y1="634.82" y2="634.82" stroke="#000" stroke-width="3.3"/>
<path d="M1518.31 566.25V576.54M1518.31 638.25V648.54M1508.56 566.25H1528.06M1508.56 648.54H1528.06" stroke="#000" stroke-width="1.72" fill="none"/>
<rect x="1506.56" y="576.54" width="23.5" height="61.71" fill="#0072B2" fill-opacity="0.9" stroke="#000" stroke-width="1.72"/>
<line x1="1506.56" x2="1530.06" y1="629.96" y2="629.96" stroke="#000" stroke-width="3.3"/>
<path d="M1545.69 558.82V606.25M1545.69 652.82V665.39M1535.94 558.82H1555.44M1535.94 665.39H1555.44" stroke="#000" stroke-width="1.72" fill="none"/>
<rect x="1533.94" y="606.25" width="23.5" height="46.57" fill="#66CCEE" fill-opacity="0.9" stroke="#000" stroke-width="1.72"/>
<line x1="1533.94" x2="1557.44" y1="638.25" y2="638.25" stroke="#000" stroke-width="3.3"/>
<path d="M1573.07 601.68V617.96M1573.07 650.54V667.11M1563.32 601.68H1582.82M1563.32 667.11H1582.82" stroke="#000" stroke-width="1.72" fill="none"/>
<rect x="1561.32" y="617.96" width="23.5" height="32.57" fill="#228833" fill-opacity="0.9" stroke="#000" stroke-width="1.72"/>
<line x1="1561.32" x2="1584.82" y1="638.82" y2="638.82" stroke="#000" stroke-width="3.3"/>
<path d="M1600.45 596.25V614.82M1600.45 650.25V671.11M1590.7 596.25H1610.2M1590.7 671.11H1610.2" stroke="#000" stroke-width="1.72" fill="none"/>
<rect x="1588.7" y="614.82" width="23.5" height="35.43" fill="#F5C710" fill-opacity="0.9" stroke="#000" stroke-width="1.72"/>
<line x1="1588.7" x2="1612.2" y1="637.39" y2="637.39" stroke="#000" stroke-width="3.3"/>
<path d="M1627.83 581.96V605.96M1627.83 647.39V654.25M1618.08 581.96H1637.58M1618.08 654.25H1637.58" stroke="#000" stroke-width="1.72" fill="none"/>
<rect x="1616.08" y="605.96" width="23.5" height="41.43" fill="#EE6677" fill-opacity="0.9" stroke="#000" stroke-width="1.72"/>
<line x1="1616.08" x2="1639.58" y1="631.96" y2="631.96" stroke="#000" stroke-width="3.3"/>
<path d="M1689.35 559.68V570.82M1689.35 636.54V648.82M1679.6 559.68H1699.1M1679.6 648.82H1699.1" stroke="#000" stroke-width="1.72" fill="none"/>
<rect x="1677.6" y="570.82" width="23.5" height="65.71" fill="#0072B2" fill-opacity="0.9" stroke="#000" stroke-width="1.72"/>
<line x1="1677.6" x2="1701.1" y1="634.25" y2="634.25" stroke="#000" stroke-width="3.3"/>
<path d="M1716.73 560.25V599.96M1716.73 651.68V665.11M1706.98 560.25H1726.48M1706.98 665.11H1726.48" stroke="#000" stroke-width="1.72" fill="none"/>
<rect x="1704.98" y="599.96" width="23.5" height="51.71" fill="#66CCEE" fill-opacity="0.9" stroke="#000" stroke-width="1.72"/>
<line x1="1704.98" x2="1728.48" y1="639.68" y2="639.68" stroke="#000" stroke-width="3.3"/>
<path d="M1744.11 597.11V624.25M1744.11 655.96V669.11M1734.36 597.11H1753.86M1734.36 669.11H1753.86" stroke="#000" stroke-width="1.72" fill="none"/>
<rect x="1732.36" y="624.25" width="23.5" height="31.71" fill="#228833" fill-opacity="0.9" stroke="#000" stroke-width="1.72"/>
<line x1="1732.36" x2="1755.86" y1="644.54" y2="644.54" stroke="#000" stroke-width="3.3"/>
<path d="M1771.49 591.96V621.96M1771.49 655.39V670.54M1761.74 591.96H1781.24M1761.74 670.54H1781.24" stroke="#000" stroke-width="1.72" fill="none"/>
<rect x="1759.74" y="621.96" width="23.5" height="33.43" fill="#F5C710" fill-opacity="0.9" stroke="#000" stroke-width="1.72"/>
<line x1="1759.74" x2="1783.24" y1="643.11" y2="643.11" stroke="#000" stroke-width="3.3"/>
<path d="M1798.87 577.39V608.25M1798.87 649.68V657.96M1789.12 577.39H1808.62M1789.12 657.96H1808.62" stroke="#000" stroke-width="1.72" fill="none"/>
<rect x="1787.12" y="608.25" width="23.5" height="41.43" fill="#EE6677" fill-opacity="0.9" stroke="#000" stroke-width="1.72"/>
<line x1="1787.12" x2="1810.62" y1="638.25" y2="638.25" stroke="#000" stroke-width="3.3"/>
<path d="M1860.39 556.54V574.82M1860.39 637.68V645.39M1850.64 556.54H1870.14M1850.64 645.39H1870.14" stroke="#000" stroke-width="1.72" fill="none"/>
<rect x="1848.64" y="574.82" width="23.5" height="62.86" fill="#0072B2" fill-opacity="0.9" stroke="#000" stroke-width="1.72"/>
<line x1="1848.64" x2="1872.14" y1="634.82" y2="634.82" stroke="#000" stroke-width="3.3"/>
<path d="M1887.77 561.68V598.54M1887.77 650.54V665.39M1878.02 561.68H1897.52M1878.02 665.39H1897.52" stroke="#000" stroke-width="1.72" fill="none"/>
<rect x="1876.02" y="598.54" width="23.5" height="52" fill="#66CCEE" fill-opacity="0.9" stroke="#000" stroke-width="1.72"/>
<line x1="1876.02" x2="1899.52" y1="639.96" y2="639.96" stroke="#000" stroke-width="3.3"/>
<path d="M1915.15 602.54V629.96M1915.15 657.39V669.96M1905.4 602.54H1924.9M1905.4 669.96H1924.9" stroke="#000" stroke-width="1.72" fill="none"/>
<rect x="1903.4" y="629.96" width="23.5" height="27.43" fill="#228833" fill-opacity="0.9" stroke="#000" stroke-width="1.72"/>
<line x1="1903.4" x2="1926.9" y1="646.54" y2="646.54" stroke="#000" stroke-width="3.3"/>
<path d="M1942.53 598.82V624.54M1942.53 656.25V671.11M1932.78 598.82H1952.28M1932.78 671.11H1952.28" stroke="#000" stroke-width="1.72" fill="none"/>
<rect x="1930.78" y="624.54" width="23.5" height="31.71" fill="#F5C710" fill-opacity="0.9" stroke="#000" stroke-width="1.72"/>
<line x1="1930.78" x2="1954.28" y1="644.82" y2="644.82" stroke="#000" stroke-width="3.3"/>
<path d="M1969.91 592.54V616.25M1969.91 649.11V661.96M1960.16 592.54H1979.66M1960.16 661.96H1979.66" stroke="#000" stroke-width="1.72" fill="none"/>
<rect x="1958.16" y="616.25" width="23.5" height="32.86" fill="#EE6677" fill-opacity="0.9" stroke="#000" stroke-width="1.72"/>
<line x1="1958.16" x2="1981.66" y1="641.68" y2="641.68" stroke="#000" stroke-width="3.3"/>
<path d="M102.3 387.5V698.8H2017.8" stroke="#000" stroke-width="2.15" fill="none" stroke-linejoin="miter"/>
<path d="M91.8 689.45H102.3M91.8 627.05H102.3M91.8 564.65H102.3M91.8 502.25H102.3M91.8 439.85H102.3M204.75 698.8V708.9M375.79 698.8V708.9M546.83 698.8V708.9M717.87 698.8V708.9M888.91 698.8V708.9M1059.95 698.8V708.9M1230.99 698.8V708.9M1402.03 698.8V708.9M1573.07 698.8V708.9M1744.11 698.8V708.9M1915.15 698.8V708.9" stroke="#000" stroke-width="2.15" fill="none"/>
<text transform="translate(82.8 703.25) scale(1 1.06)" text-anchor="end">0</text>
<text transform="translate(82.8 640.85) scale(1 1.06)" text-anchor="end">1</text>
<text transform="translate(82.8 578.45) scale(1 1.06)" text-anchor="end">2</text>
<text transform="translate(82.8 516.05) scale(1 1.06)" text-anchor="end">3</text>
<text transform="translate(82.8 453.65) scale(1 1.06)" text-anchor="end">4</text>
<text transform="translate(204.75 743.9) scale(1 1.06)" text-anchor="middle">1</text>
<text transform="translate(375.79 743.9) scale(1 1.06)" text-anchor="middle">2</text>
<text transform="translate(546.83 743.9) scale(1 1.06)" text-anchor="middle">4</text>
<text transform="translate(717.87 743.9) scale(1 1.06)" text-anchor="middle">6</text>
<text transform="translate(888.91 743.9) scale(1 1.06)" text-anchor="middle">8</text>
<text transform="translate(1059.95 743.9) scale(1 1.06)" text-anchor="middle">10</text>
<text transform="translate(1230.99 743.9) scale(1 1.06)" text-anchor="middle">12</text>
<text transform="translate(1402.03 743.9) scale(1 1.06)" text-anchor="middle">18</text>
<text transform="translate(1573.07 743.9) scale(1 1.06)" text-anchor="middle">24</text>
<text transform="translate(1744.11 743.9) scale(1 1.06)" text-anchor="middle">48</text>
<text transform="translate(1915.15 743.9) scale(1 1.06)" text-anchor="middle">72</text>
<text transform="translate(2038.9 543.15) rotate(90) scale(1 1.035)" text-anchor="middle">Near North</text>
</g>
<g>
<line x1="102.3" x2="2017.8" y1="1013.85" y2="1013.85" stroke="#7f7f7f" stroke-width="1.8"/>
<path d="M149.99 999.68V1022.25M149.99 1043.96V1055.96M140.24 999.68H159.74M140.24 1055.96H159.74" stroke="#000" stroke-width="1.72" fill="none"/>
<rect x="138.24" y="1022.25" width="23.5" height="21.71" fill="#0072B2" fill-opacity="0.9" stroke="#000" stroke-width="1.72"/>
<line x1="138.24" x2="161.74" y1="1030.82" y2="1030.82" stroke="#000" stroke-width="3.3"/>
<path d="M177.37 1010.82V1027.96M177.37 1047.68V1055.11M167.62 1010.82H187.12M167.62 1055.11H187.12" stroke="#000" stroke-width="1.72" fill="none"/>
<rect x="165.62" y="1027.96" width="23.5" height="19.71" fill="#66CCEE" fill-opacity="0.9" stroke="#000" stroke-width="1.72"/>
<line x1="165.62" x2="189.12" y1="1038.54" y2="1038.54" stroke="#000" stroke-width="3.3"/>
<path d="M204.75 929.68V969.68M204.75 997.11V1023.96M195 929.68H214.5M195 1023.96H214.5" stroke="#000" stroke-width="1.72" fill="none"/>
<rect x="193" y="969.68" width="23.5" height="27.43" fill="#228833" fill-opacity="0.9" stroke="#000" stroke-width="1.72"/>
<line x1="193" x2="216.5" y1="985.68" y2="985.68" stroke="#000" stroke-width="3.3"/>
<path d="M232.13 931.68V969.96M232.13 998.25V1027.11M222.38 931.68H241.88M222.38 1027.11H241.88" stroke="#000" stroke-width="1.72" fill="none"/>
<rect x="220.38" y="969.96" width="23.5" height="28.29" fill="#F5C710" fill-opacity="0.9" stroke="#000" stroke-width="1.72"/>
<line x1="220.38" x2="243.88" y1="985.68" y2="985.68" stroke="#000" stroke-width="3.3"/>
<path d="M259.51 992.25V1009.96M259.51 1030.54V1045.11M249.76 992.25H269.26M249.76 1045.11H269.26" stroke="#000" stroke-width="1.72" fill="none"/>
<rect x="247.76" y="1009.96" width="23.5" height="20.57" fill="#EE6677" fill-opacity="0.9" stroke="#000" stroke-width="1.72"/>
<line x1="247.76" x2="271.26" y1="1023.11" y2="1023.11" stroke="#000" stroke-width="3.3"/>
<path d="M321.03 998.82V1015.68M321.03 1039.68V1056.54M311.28 998.82H330.78M311.28 1056.54H330.78" stroke="#000" stroke-width="1.72" fill="none"/>
<rect x="309.28" y="1015.68" width="23.5" height="24" fill="#0072B2" fill-opacity="0.9" stroke="#000" stroke-width="1.72"/>
<line x1="309.28" x2="332.78" y1="1029.11" y2="1029.11" stroke="#000" stroke-width="3.3"/>
<path d="M348.41 1011.96V1026.25M348.41 1045.39V1053.96M338.66 1011.96H358.16M338.66 1053.96H358.16" stroke="#000" stroke-width="1.72" fill="none"/>
<rect x="336.66" y="1026.25" width="23.5" height="19.14" fill="#66CCEE" fill-opacity="0.9" stroke="#000" stroke-width="1.72"/>
<line x1="336.66" x2="360.16" y1="1036.25" y2="1036.25" stroke="#000" stroke-width="3.3"/>
<path d="M375.79 952.82V980.25M375.79 1005.96V1027.11M366.04 952.82H385.54M366.04 1027.11H385.54" stroke="#000" stroke-width="1.72" fill="none"/>
<rect x="364.04" y="980.25" width="23.5" height="25.71" fill="#228833" fill-opacity="0.9" stroke="#000" stroke-width="1.72"/>
<line x1="364.04" x2="387.54" y1="995.39" y2="995.39" stroke="#000" stroke-width="3.3"/>
<path d="M403.17 957.96V981.96M403.17 1003.96V1030.25M393.42 957.96H412.92M393.42 1030.25H412.92" stroke="#000" stroke-width="1.72" fill="none"/>
<rect x="391.42" y="981.96" width="23.5" height="22" fill="#F5C710" fill-opacity="0.9" stroke="#000" stroke-width="1.72"/>
<line x1="391.42" x2="414.92" y1="993.68" y2="993.68" stroke="#000" stroke-width="3.3"/>
<path d="M430.55 980.54V1003.68M430.55 1029.96V1045.39M420.8 980.54H440.3M420.8 1045.39H440.3" stroke="#000" stroke-width="1.72" fill="none"/>
<rect x="418.8" y="1003.68" width="23.5" height="26.29" fill="#EE6677" fill-opacity="0.9" stroke="#000" stroke-width="1.72"/>
<line x1="418.8" x2="442.3" y1="1017.96" y2="1017.96" stroke="#000" stroke-width="3.3"/>
<path d="M492.07 994.25V1011.96M492.07 1038.25V1051.11M482.32 994.25H501.82M482.32 1051.11H501.82" stroke="#000" stroke-width="1.72" fill="none"/>
<rect x="480.32" y="1011.96" width="23.5" height="26.29" fill="#0072B2" fill-opacity="0.9" stroke="#000" stroke-width="1.72"/>
<line x1="480.32" x2="503.82" y1="1025.39" y2="1025.39" stroke="#000" stroke-width="3.3"/>
<path d="M519.45 1003.96V1025.39M519.45 1043.39V1053.96M509.7 1003.96H529.2M509.7 1053.96H529.2" stroke="#000" stroke-width="1.72" fill="none"/>
<rect x="507.7" y="1025.39" width="23.5" height="18" fill="#66CCEE" fill-opacity="0.9" stroke="#000" stroke-width="1.72"/>
<line x1="507.7" x2="531.2" y1="1035.96" y2="1035.96" stroke="#000" stroke-width="3.3"/>
<path d="M546.83 960.25V991.96M546.83 1013.39V1037.96M537.08 960.25H556.58M537.08 1037.96H556.58" stroke="#000" stroke-width="1.72" fill="none"/>
<rect x="535.08" y="991.96" width="23.5" height="21.43" fill="#228833" fill-opacity="0.9" stroke="#000" stroke-width="1.72"/>
<line x1="535.08" x2="558.58" y1="1000.54" y2="1000.54" stroke="#000" stroke-width="3.3"/>
<path d="M574.21 962.54V992.54M574.21 1013.96V1040.25M564.46 962.54H583.96M564.46 1040.25H583.96" stroke="#000" stroke-width="1.72" fill="none"/>
<rect x="562.46" y="992.54" width="23.5" height="21.43" fill="#F5C710" fill-opacity="0.9" stroke="#000" stroke-width="1.72"/>
<line x1="562.46" x2="585.96" y1="1003.68" y2="1003.68" stroke="#000" stroke-width="3.3"/>
<path d="M601.59 966.54V1002.54M601.59 1028.25V1048.82M591.84 966.54H611.34M591.84 1048.82H611.34" stroke="#000" stroke-width="1.72" fill="none"/>
<rect x="589.84" y="1002.54" width="23.5" height="25.71" fill="#EE6677" fill-opacity="0.9" stroke="#000" stroke-width="1.72"/>
<line x1="589.84" x2="613.34" y1="1017.39" y2="1017.39" stroke="#000" stroke-width="3.3"/>
<path d="M663.11 960.25V1003.39M663.11 1033.68V1046.82M653.36 960.25H672.86M653.36 1046.82H672.86" stroke="#000" stroke-width="1.72" fill="none"/>
<rect x="651.36" y="1003.39" width="23.5" height="30.29" fill="#0072B2" fill-opacity="0.9" stroke="#000" stroke-width="1.72"/>
<line x1="651.36" x2="674.86" y1="1021.96" y2="1021.96" stroke="#000" stroke-width="3.3"/>
<path d="M690.49 992.25V1017.96M690.49 1040.25V1053.39M680.74 992.25H700.24M680.74 1053.39H700.24" stroke="#000" stroke-width="1.72" fill="none"/>
<rect x="678.74" y="1017.96" width="23.5" height="22.29" fill="#66CCEE" fill-opacity="0.9" stroke="#000" stroke-width="1.72"/>
<line x1="678.74" x2="702.24" y1="1032.54" y2="1032.54" stroke="#000" stroke-width="3.3"/>
<path d="M717.87 965.96V996.54M717.87 1017.68V1042.54M708.12 965.96H727.62M708.12 1042.54H727.62" stroke="#000" stroke-width="1.72" fill="none"/>
<rect x="706.12" y="996.54" width="23.5" height="21.14" fill="#228833" fill-opacity="0.9" stroke="#000" stroke-width="1.72"/>
<line x1="706.12" x2="729.62" y1="1005.11" y2="1005.11" stroke="#000" stroke-width="3.3"/>
<path d="M745.25 969.68V996.82M745.25 1018.25V1044.82M735.5 969.68H755M735.5 1044.82H755" stroke="#000" stroke-width="1.72" fill="none"/>
<rect x="733.5" y="996.82" width="23.5" height="21.43" fill="#F5C710" fill-opacity="0.9" stroke="#000" stroke-width="1.72"/>
<line x1="733.5" x2="757" y1="1005.39" y2="1005.39" stroke="#000" stroke-width="3.3"/>
<path d="M772.63 958.25V994.54M772.63 1023.39V1051.11M762.88 958.25H782.38M762.88 1051.11H782.38" stroke="#000" stroke-width="1.72" fill="none"/>
<rect x="760.88" y="994.54" width="23.5" height="28.86" fill="#EE6677" fill-opacity="0.9" stroke="#000" stroke-width="1.72"/>
<line x1="760.88" x2="784.38" y1="1012.82" y2="1012.82" stroke="#000" stroke-width="3.3"/>
<path d="M834.15 956.82V997.68M834.15 1033.11V1044.82M824.4 956.82H843.9M824.4 1044.82H843.9" stroke="#000" stroke-width="1.72" fill="none"/>
<rect x="822.4" y="997.68" width="23.5" height="35.43" fill="#0072B2" fill-opacity="0.9" stroke="#000" stroke-width="1.72"/>
<line x1="822.4" x2="845.9" y1="1019.96" y2="1019.96" stroke="#000" stroke-width="3.3"/>
<path d="M861.53 981.39V1015.68M861.53 1039.11V1052.54M851.78 981.39H871.28M851.78 1052.54H871.28" stroke="#000" stroke-width="1.72" fill="none"/>
<rect x="849.78" y="1015.68" width="23.5" height="23.43" fill="#66CCEE" fill-opacity="0.9" stroke="#000" stroke-width="1.72"/>
<line x1="849.78" x2="873.28" y1="1027.96" y2="1027.96" stroke="#000" stroke-width="3.3"/>
<path d="M888.91 967.11V999.39M888.91 1021.39V1045.11M879.16 967.11H898.66M879.16 1045.11H898.66" stroke="#000" stroke-width="1.72" fill="none"/>
<rect x="877.16" y="999.39" width="23.5" height="22" fill="#228833" fill-opacity="0.9" stroke="#000" stroke-width="1.72"/>
<line x1="877.16" x2="900.66" y1="1007.11" y2="1007.11" stroke="#000" stroke-width="3.3"/>
<path d="M916.29 971.96V998.25M916.29 1020.82V1047.11M906.54 971.96H926.04M906.54 1047.11H926.04" stroke="#000" stroke-width="1.72" fill="none"/>
<rect x="904.54" y="998.25" width="23.5" height="22.57" fill="#F5C710" fill-opacity="0.9" stroke="#000" stroke-width="1.72"/>
<line x1="904.54" x2="928.04" y1="1007.11" y2="1007.11" stroke="#000" stroke-width="3.3"/>
<path d="M943.67 946.25V989.96M943.67 1022.54V1052.54M933.92 946.25H953.42M933.92 1052.54H953.42" stroke="#000" stroke-width="1.72" fill="none"/>
<rect x="931.92" y="989.96" width="23.5" height="32.57" fill="#EE6677" fill-opacity="0.9" stroke="#000" stroke-width="1.72"/>
<line x1="931.92" x2="955.42" y1="1009.96" y2="1009.96" stroke="#000" stroke-width="3.3"/>
<path d="M1005.19 952.82V997.68M1005.19 1031.96V1045.96M995.44 952.82H1014.94M995.44 1045.96H1014.94" stroke="#000" stroke-width="1.72" fill="none"/>
<rect x="993.44" y="997.68" width="23.5" height="34.29" fill="#0072B2" fill-opacity="0.9" stroke="#000" stroke-width="1.72"/>
<line x1="993.44" x2="1016.94" y1="1018.25" y2="1018.25" stroke="#000" stroke-width="3.3"/>
<path d="M1032.57 986.82V1015.11M1032.57 1036.82V1049.68M1022.82 986.82H1042.32M1022.82 1049.68H1042.32" stroke="#000" stroke-width="1.72" fill="none"/>
<rect x="1020.82" y="1015.11" width="23.5" height="21.71" fill="#66CCEE" fill-opacity="0.9" stroke="#000" stroke-width="1.72"/>
<line x1="1020.82" x2="1044.32" y1="1026.82" y2="1026.82" stroke="#000" stroke-width="3.3"/>
<path d="M1059.95 968.82V999.68M1059.95 1024.25V1046.54M1050.2 968.82H1069.7M1050.2 1046.54H1069.7" stroke="#000" stroke-width="1.72" fill="none"/>
<rect x="1048.2" y="999.68" width="23.5" height="24.57" fill="#228833" fill-opacity="0.9" stroke="#000" stroke-width="1.72"/>
<line x1="1048.2" x2="1071.7" y1="1009.39" y2="1009.39" stroke="#000" stroke-width="3.3"/>
<path d="M1087.33 968.82V999.68M1087.33 1024.25V1046.54M1077.58 968.82H1097.08M1077.58 1046.54H1097.08" stroke="#000" stroke-width="1.72" fill="none"/>
<rect x="1075.58" y="999.68" width="23.5" height="24.57" fill="#F5C710" fill-opacity="0.9" stroke="#000" stroke-width="1.72"/>
<line x1="1075.58" x2="1099.08" y1="1009.39" y2="1009.39" stroke="#000" stroke-width="3.3"/>
<path d="M1114.71 932.54V981.39M1114.71 1018.54V1053.39M1104.96 932.54H1124.46M1104.96 1053.39H1124.46" stroke="#000" stroke-width="1.72" fill="none"/>
<rect x="1102.96" y="981.39" width="23.5" height="37.14" fill="#EE6677" fill-opacity="0.9" stroke="#000" stroke-width="1.72"/>
<line x1="1102.96" x2="1126.46" y1="1008.25" y2="1008.25" stroke="#000" stroke-width="3.3"/>
<path d="M1176.23 951.11V997.96M1176.23 1030.82V1045.68M1166.48 951.11H1185.98M1166.48 1045.68H1185.98" stroke="#000" stroke-width="1.72" fill="none"/>
<rect x="1164.48" y="997.96" width="23.5" height="32.86" fill="#0072B2" fill-opacity="0.9" stroke="#000" stroke-width="1.72"/>
<line x1="1164.48" x2="1187.98" y1="1016.54" y2="1016.54" stroke="#000" stroke-width="3.3"/>
<path d="M1203.61 998.82V1013.96M1203.61 1035.39V1049.39M1193.86 998.82H1213.36M1193.86 1049.39H1213.36" stroke="#000" stroke-width="1.72" fill="none"/>
<rect x="1191.86" y="1013.96" width="23.5" height="21.43" fill="#66CCEE" fill-opacity="0.9" stroke="#000" stroke-width="1.72"/>
<line x1="1191.86" x2="1215.36" y1="1024.82" y2="1024.82" stroke="#000" stroke-width="3.3"/>
<path d="M1230.99 967.11V1001.39M1230.99 1026.25V1047.68M1221.24 967.11H1240.74M1221.24 1047.68H1240.74" stroke="#000" stroke-width="1.72" fill="none"/>
<rect x="1219.24" y="1001.39" width="23.5" height="24.86" fill="#228833" fill-opacity="0.9" stroke="#000" stroke-width="1.72"/>
<line x1="1219.24" x2="1242.74" y1="1009.96" y2="1009.96" stroke="#000" stroke-width="3.3"/>
<path d="M1258.37 965.11V1000.82M1258.37 1025.11V1047.68M1248.62 965.11H1268.12M1248.62 1047.68H1268.12" stroke="#000" stroke-width="1.72" fill="none"/>
<rect x="1246.62" y="1000.82" width="23.5" height="24.29" fill="#F5C710" fill-opacity="0.9" stroke="#000" stroke-width="1.72"/>
<line x1="1246.62" x2="1270.12" y1="1010.82" y2="1010.82" stroke="#000" stroke-width="3.3"/>
<path d="M1285.75 929.68V976.82M1285.75 1015.39V1053.11M1276 929.68H1295.5M1276 1053.11H1295.5" stroke="#000" stroke-width="1.72" fill="none"/>
<rect x="1274" y="976.82" width="23.5" height="38.57" fill="#EE6677" fill-opacity="0.9" stroke="#000" stroke-width="1.72"/>
<line x1="1274" x2="1297.5" y1="1001.39" y2="1001.39" stroke="#000" stroke-width="3.3"/>
<path d="M1347.27 957.39V994.25M1347.27 1026.54V1046.25M1337.52 957.39H1357.02M1337.52 1046.25H1357.02" stroke="#000" stroke-width="1.72" fill="none"/>
<rect x="1335.52" y="994.25" width="23.5" height="32.29" fill="#0072B2" fill-opacity="0.9" stroke="#000" stroke-width="1.72"/>
<line x1="1335.52" x2="1359.02" y1="1014.54" y2="1014.54" stroke="#000" stroke-width="3.3"/>
<path d="M1374.65 974.25V1008.25M1374.65 1035.11V1050.54M1364.9 974.25H1384.4M1364.9 1050.54H1384.4" stroke="#000" stroke-width="1.72" fill="none"/>
<rect x="1362.9" y="1008.25" width="23.5" height="26.86" fill="#66CCEE" fill-opacity="0.9" stroke="#000" stroke-width="1.72"/>
<line x1="1362.9" x2="1386.4" y1="1024.82" y2="1024.82" stroke="#000" stroke-width="3.3"/>
<path d="M1402.03 971.68V1004.82M1402.03 1027.68V1048.25M1392.28 971.68H1411.78M1392.28 1048.25H1411.78" stroke="#000" stroke-width="1.72" fill="none"/>
<rect x="1390.28" y="1004.82" width="23.5" height="22.86" fill="#228833" fill-opacity="0.9" stroke="#000" stroke-width="1.72"/>
<line x1="1390.28" x2="1413.78" y1="1011.96" y2="1011.96" stroke="#000" stroke-width="3.3"/>
<path d="M1429.41 978.54V1006.82M1429.41 1026.54V1049.11M1419.66 978.54H1439.16M1419.66 1049.11H1439.16" stroke="#000" stroke-width="1.72" fill="none"/>
<rect x="1417.66" y="1006.82" width="23.5" height="19.71" fill="#F5C710" fill-opacity="0.9" stroke="#000" stroke-width="1.72"/>
<line x1="1417.66" x2="1441.16" y1="1013.68" y2="1013.68" stroke="#000" stroke-width="3.3"/>
<path d="M1456.79 938.82V977.68M1456.79 1016.25V1050.54M1447.04 938.82H1466.54M1447.04 1050.54H1466.54" stroke="#000" stroke-width="1.72" fill="none"/>
<rect x="1445.04" y="977.68" width="23.5" height="38.57" fill="#EE6677" fill-opacity="0.9" stroke="#000" stroke-width="1.72"/>
<line x1="1445.04" x2="1468.54" y1="995.11" y2="995.11" stroke="#000" stroke-width="3.3"/>
<path d="M1518.31 957.39V993.68M1518.31 1029.68V1046.25M1508.56 957.39H1528.06M1508.56 1046.25H1528.06" stroke="#000" stroke-width="1.72" fill="none"/>
<rect x="1506.56" y="993.68" width="23.5" height="36" fill="#0072B2" fill-opacity="0.9" stroke="#000" stroke-width="1.72"/>
<line x1="1506.56" x2="1530.06" y1="1015.68" y2="1015.68" stroke="#000" stroke-width="3.3"/>
<path d="M1545.69 964.82V1005.68M1545.69 1033.39V1049.39M1535.94 964.82H1555.44M1535.94 1049.39H1555.44" stroke="#000" stroke-width="1.72" fill="none"/>
<rect x="1533.94" y="1005.68" width="23.5" height="27.71" fill="#66CCEE" fill-opacity="0.9" stroke="#000" stroke-width="1.72"/>
<line x1="1533.94" x2="1557.44" y1="1023.68" y2="1023.68" stroke="#000" stroke-width="3.3"/>
<path d="M1573.07 978.54V1005.96M1573.07 1030.54V1048.54M1563.32 978.54H1582.82M1563.32 1048.54H1582.82" stroke="#000" stroke-width="1.72" fill="none"/>
<rect x="1561.32" y="1005.96" width="23.5" height="24.57" fill="#228833" fill-opacity="0.9" stroke="#000" stroke-width="1.72"/>
<line x1="1561.32" x2="1584.82" y1="1015.96" y2="1015.96" stroke="#000" stroke-width="3.3"/>
<path d="M1600.45 985.96V1008.82M1600.45 1030.54V1050.82M1590.7 985.96H1610.2M1590.7 1050.82H1610.2" stroke="#000" stroke-width="1.72" fill="none"/>
<rect x="1588.7" y="1008.82" width="23.5" height="21.71" fill="#F5C710" fill-opacity="0.9" stroke="#000" stroke-width="1.72"/>
<line x1="1588.7" x2="1612.2" y1="1015.39" y2="1015.39" stroke="#000" stroke-width="3.3"/>
<path d="M1627.83 933.11V972.82M1627.83 1015.68V1046.82M1618.08 933.11H1637.58M1618.08 1046.82H1637.58" stroke="#000" stroke-width="1.72" fill="none"/>
<rect x="1616.08" y="972.82" width="23.5" height="42.86" fill="#EE6677" fill-opacity="0.9" stroke="#000" stroke-width="1.72"/>
<line x1="1616.08" x2="1639.58" y1="990.25" y2="990.25" stroke="#000" stroke-width="3.3"/>
<path d="M1689.35 970.54V993.96M1689.35 1027.96V1042.82M1679.6 970.54H1699.1M1679.6 1042.82H1699.1" stroke="#000" stroke-width="1.72" fill="none"/>
<rect x="1677.6" y="993.96" width="23.5" height="34" fill="#0072B2" fill-opacity="0.9" stroke="#000" stroke-width="1.72"/>
<line x1="1677.6" x2="1701.1" y1="1015.96" y2="1015.96" stroke="#000" stroke-width="3.3"/>
<path d="M1716.73 981.68V1005.39M1716.73 1033.68V1046.25M1706.98 981.68H1726.48M1706.98 1046.25H1726.48" stroke="#000" stroke-width="1.72" fill="none"/>
<rect x="1704.98" y="1005.39" width="23.5" height="28.29" fill="#66CCEE" fill-opacity="0.9" stroke="#000" stroke-width="1.72"/>
<line x1="1704.98" x2="1728.48" y1="1022.25" y2="1022.25" stroke="#000" stroke-width="3.3"/>
<path d="M1744.11 975.96V1009.96M1744.11 1037.39V1053.39M1734.36 975.96H1753.86M1734.36 1053.39H1753.86" stroke="#000" stroke-width="1.72" fill="none"/>
<rect x="1732.36" y="1009.96" width="23.5" height="27.43" fill="#228833" fill-opacity="0.9" stroke="#000" stroke-width="1.72"/>
<line x1="1732.36" x2="1755.86" y1="1022.82" y2="1022.82" stroke="#000" stroke-width="3.3"/>
<path d="M1771.49 981.68V1013.96M1771.49 1035.96V1054.82M1761.74 981.68H1781.24M1761.74 1054.82H1781.24" stroke="#000" stroke-width="1.72" fill="none"/>
<rect x="1759.74" y="1013.96" width="23.5" height="22" fill="#F5C710" fill-opacity="0.9" stroke="#000" stroke-width="1.72"/>
<line x1="1759.74" x2="1783.24" y1="1022.82" y2="1022.82" stroke="#000" stroke-width="3.3"/>
<path d="M1798.87 925.96V978.82M1798.87 1016.25V1051.11M1789.12 925.96H1808.62M1789.12 1051.11H1808.62" stroke="#000" stroke-width="1.72" fill="none"/>
<rect x="1787.12" y="978.82" width="23.5" height="37.43" fill="#EE6677" fill-opacity="0.9" stroke="#000" stroke-width="1.72"/>
<line x1="1787.12" x2="1810.62" y1="992.54" y2="992.54" stroke="#000" stroke-width="3.3"/>
<path d="M1860.39 973.68V997.96M1860.39 1027.68V1045.96M1850.64 973.68H1870.14M1850.64 1045.96H1870.14" stroke="#000" stroke-width="1.72" fill="none"/>
<rect x="1848.64" y="997.96" width="23.5" height="29.71" fill="#0072B2" fill-opacity="0.9" stroke="#000" stroke-width="1.72"/>
<line x1="1848.64" x2="1872.14" y1="1015.68" y2="1015.68" stroke="#000" stroke-width="3.3"/>
<path d="M1887.77 985.68V1004.54M1887.77 1033.11V1047.96M1878.02 985.68H1897.52M1878.02 1047.96H1897.52" stroke="#000" stroke-width="1.72" fill="none"/>
<rect x="1876.02" y="1004.54" width="23.5" height="28.57" fill="#66CCEE" fill-opacity="0.9" stroke="#000" stroke-width="1.72"/>
<line x1="1876.02" x2="1899.52" y1="1022.54" y2="1022.54" stroke="#000" stroke-width="3.3"/>
<path d="M1915.15 980.25V1012.82M1915.15 1039.11V1054.54M1905.4 980.25H1924.9M1905.4 1054.54H1924.9" stroke="#000" stroke-width="1.72" fill="none"/>
<rect x="1903.4" y="1012.82" width="23.5" height="26.29" fill="#228833" fill-opacity="0.9" stroke="#000" stroke-width="1.72"/>
<line x1="1903.4" x2="1926.9" y1="1024.25" y2="1024.25" stroke="#000" stroke-width="3.3"/>
<path d="M1942.53 983.96V1012.54M1942.53 1038.25V1056.25M1932.78 983.96H1952.28M1932.78 1056.25H1952.28" stroke="#000" stroke-width="1.72" fill="none"/>
<rect x="1930.78" y="1012.54" width="23.5" height="25.71" fill="#F5C710" fill-opacity="0.9" stroke="#000" stroke-width="1.72"/>
<line x1="1930.78" x2="1954.28" y1="1024.82" y2="1024.82" stroke="#000" stroke-width="3.3"/>
<path d="M1969.91 919.11V974.82M1969.91 1015.68V1052.82M1960.16 919.11H1979.66M1960.16 1052.82H1979.66" stroke="#000" stroke-width="1.72" fill="none"/>
<rect x="1958.16" y="974.82" width="23.5" height="40.86" fill="#EE6677" fill-opacity="0.9" stroke="#000" stroke-width="1.72"/>
<line x1="1958.16" x2="1981.66" y1="990.82" y2="990.82" stroke="#000" stroke-width="3.3"/>
<path d="M102.3 774.3V1085.6H2017.8" stroke="#000" stroke-width="2.15" fill="none" stroke-linejoin="miter"/>
<path d="M91.8 1076.25H102.3M91.8 1013.85H102.3M91.8 951.45H102.3M91.8 889.05H102.3M91.8 826.65H102.3M204.75 1085.6V1095.7M375.79 1085.6V1095.7M546.83 1085.6V1095.7M717.87 1085.6V1095.7M888.91 1085.6V1095.7M1059.95 1085.6V1095.7M1230.99 1085.6V1095.7M1402.03 1085.6V1095.7M1573.07 1085.6V1095.7M1744.11 1085.6V1095.7M1915.15 1085.6V1095.7" stroke="#000" stroke-width="2.15" fill="none"/>
<text transform="translate(82.8 1090.05) scale(1 1.06)" text-anchor="end">0</text>
<text transform="translate(82.8 1027.65) scale(1 1.06)" text-anchor="end">1</text>
<text transform="translate(82.8 965.25) scale(1 1.06)" text-anchor="end">2</text>
<text transform="translate(82.8 902.85) scale(1 1.06)" text-anchor="end">3</text>
<text transform="translate(82.8 840.45) scale(1 1.06)" text-anchor="end">4</text>
<text transform="translate(204.75 1130.7) scale(1 1.06)" text-anchor="middle">1</text>
<text transform="translate(375.79 1130.7) scale(1 1.06)" text-anchor="middle">2</text>
<text transform="translate(546.83 1130.7) scale(1 1.06)" text-anchor="middle">4</text>
<text transform="translate(717.87 1130.7) scale(1 1.06)" text-anchor="middle">6</text>
<text transform="translate(888.91 1130.7) scale(1 1.06)" text-anchor="middle">8</text>
<text transform="translate(1059.95 1130.7) scale(1 1.06)" text-anchor="middle">10</text>
<text transform="translate(1230.99 1130.7) scale(1 1.06)" text-anchor="middle">12</text>
<text transform="translate(1402.03 1130.7) scale(1 1.06)" text-anchor="middle">18</text>
<text transform="translate(1573.07 1130.7) scale(1 1.06)" text-anchor="middle">24</text>
<text transform="translate(1744.11 1130.7) scale(1 1.06)" text-anchor="middle">48</text>
<text transform="translate(1915.15 1130.7) scale(1 1.06)" text-anchor="middle">72</text>
<text transform="translate(2038.9 929.95) rotate(90) scale(1 1.035)" text-anchor="middle">Central Chile</text>
</g>
<g>
<line x1="102.3" x2="2017.8" y1="1400.65" y2="1400.65" stroke="#7f7f7f" stroke-width="1.8"/>
<path d="M149.99 1414.25V1421.96M149.99 1430.54V1440.25M140.24 1414.25H159.74M140.24 1440.25H159.74" stroke="#000" stroke-width="1.72" fill="none"/>
<rect x="138.24" y="1421.96" width="23.5" height="8.57" fill="#0072B2" fill-opacity="0.9" stroke="#000" stroke-width="1.72"/>
<line x1="138.24" x2="161.74" y1="1426.82" y2="1426.82" stroke="#000" stroke-width="3.3"/>
<path d="M177.37 1411.96V1417.11M177.37 1426.82V1433.11M167.62 1411.96H187.12M167.62 1433.11H187.12" stroke="#000" stroke-width="1.72" fill="none"/>
<rect x="165.62" y="1417.11" width="23.5" height="9.71" fill="#66CCEE" fill-opacity="0.9" stroke="#000" stroke-width="1.72"/>
<line x1="165.62" x2="189.12" y1="1422.54" y2="1422.54" stroke="#000" stroke-width="3.3"/>
<path d="M204.75 1314.82V1346.82M204.75 1370.82V1385.96M195 1314.82H214.5M195 1385.96H214.5" stroke="#000" stroke-width="1.72" fill="none"/>
<rect x="193" y="1346.82" width="23.5" height="24" fill="#228833" fill-opacity="0.9" stroke="#000" stroke-width="1.72"/>
<line x1="193" x2="216.5" y1="1358.82" y2="1358.82" stroke="#000" stroke-width="3.3"/>
<path d="M232.13 1315.96V1345.96M232.13 1372.25V1386.82M222.38 1315.96H241.88M222.38 1386.82H241.88" stroke="#000" stroke-width="1.72" fill="none"/>
<rect x="220.38" y="1345.96" width="23.5" height="26.29" fill="#F5C710" fill-opacity="0.9" stroke="#000" stroke-width="1.72"/>
<line x1="220.38" x2="243.88" y1="1355.96" y2="1355.96" stroke="#000" stroke-width="3.3"/>
<path d="M259.51 1395.68V1406.54M259.51 1416.82V1430.25M249.76 1395.68H269.26M249.76 1430.25H269.26" stroke="#000" stroke-width="1.72" fill="none"/>
<rect x="247.76" y="1406.54" width="23.5" height="10.29" fill="#EE6677" fill-opacity="0.9" stroke="#000" stroke-width="1.72"/>
<line x1="247.76" x2="271.26" y1="1411.39" y2="1411.39" stroke="#000" stroke-width="3.3"/>
<path d="M321.03 1411.68V1421.11M321.03 1430.82V1439.39M311.28 1411.68H330.78M311.28 1439.39H330.78" stroke="#000" stroke-width="1.72" fill="none"/>
<rect x="309.28" y="1421.11" width="23.5" height="9.71" fill="#0072B2" fill-opacity="0.9" stroke="#000" stroke-width="1.72"/>
<line x1="309.28" x2="332.78" y1="1426.25" y2="1426.25" stroke="#000" stroke-width="3.3"/>
<path d="M348.41 1396.82V1414.25M348.41 1426.25V1434.82M338.66 1396.82H358.16M338.66 1434.82H358.16" stroke="#000" stroke-width="1.72" fill="none"/>
<rect x="336.66" y="1414.25" width="23.5" height="12" fill="#66CCEE" fill-opacity="0.9" stroke="#000" stroke-width="1.72"/>
<line x1="336.66" x2="360.16" y1="1420.25" y2="1420.25" stroke="#000" stroke-width="3.3"/>
<path d="M375.79 1341.11V1359.39M375.79 1377.96V1401.39M366.04 1341.11H385.54M366.04 1401.39H385.54" stroke="#000" stroke-width="1.72" fill="none"/>
<rect x="364.04" y="1359.39" width="23.5" height="18.57" fill="#228833" fill-opacity="0.9" stroke="#000" stroke-width="1.72"/>
<line x1="364.04" x2="387.54" y1="1366.82" y2="1366.82" stroke="#000" stroke-width="3.3"/>
<path d="M403.17 1325.68V1356.54M403.17 1378.82V1401.68M393.42 1325.68H412.92M393.42 1401.68H412.92" stroke="#000" stroke-width="1.72" fill="none"/>
<rect x="391.42" y="1356.54" width="23.5" height="22.29" fill="#F5C710" fill-opacity="0.9" stroke="#000" stroke-width="1.72"/>
<line x1="391.42" x2="414.92" y1="1368.25" y2="1368.25" stroke="#000" stroke-width="3.3"/>
<path d="M430.55 1384.54V1399.96M430.55 1411.68V1429.11M420.8 1384.54H440.3M420.8 1429.11H440.3" stroke="#000" stroke-width="1.72" fill="none"/>
<rect x="418.8" y="1399.96" width="23.5" height="11.71" fill="#EE6677" fill-opacity="0.9" stroke="#000" stroke-width="1.72"/>
<line x1="418.8" x2="442.3" y1="1406.54" y2="1406.54" stroke="#000" stroke-width="3.3"/>
<path d="M492.07 1398.54V1415.68M492.07 1429.68V1440.25M482.32 1398.54H501.82M482.32 1440.25H501.82" stroke="#000" stroke-width="1.72" fill="none"/>
<rect x="480.32" y="1415.68" width="23.5" height="14" fill="#0072B2" fill-opacity="0.9" stroke="#000" stroke-width="1.72"/>
<line x1="480.32" x2="503.82" y1="1424.54" y2="1424.54" stroke="#000" stroke-width="3.3"/>
<path d="M519.45 1399.68V1414.25M519.45 1424.25V1431.96M509.7 1399.68H529.2M509.7 1431.96H529.2" stroke="#000" stroke-width="1.72" fill="none"/>
<rect x="507.7" y="1414.25" width="23.5" height="10" fill="#66CCEE" fill-opacity="0.9" stroke="#000" stroke-width="1.72"/>
<line x1="507.7" x2="531.2" y1="1418.82" y2="1418.82" stroke="#000" stroke-width="3.3"/>
<path d="M546.83 1345.11V1370.25M546.83 1389.11V1409.68M537.08 1345.11H556.58M537.08 1409.68H556.58" stroke="#000" stroke-width="1.72" fill="none"/>
<rect x="535.08" y="1370.25" width="23.5" height="18.86" fill="#228833" fill-opacity="0.9" stroke="#000" stroke-width="1.72"/>
<line x1="535.08" x2="558.58" y1="1379.39" y2="1379.39" stroke="#000" stroke-width="3.3"/>
<path d="M574.21 1334.25V1364.25M574.21 1389.39V1408.54M564.46 1334.25H583.96M564.46 1408.54H583.96" stroke="#000" stroke-width="1.72" fill="none"/>
<rect x="562.46" y="1364.25" width="23.5" height="25.14" fill="#F5C710" fill-opacity="0.9" stroke="#000" stroke-width="1.72"/>
<line x1="562.46" x2="585.96" y1="1379.96" y2="1379.96" stroke="#000" stroke-width="3.3"/>
<path d="M601.59 1369.11V1394.25M601.59 1411.39V1427.11M591.84 1369.11H611.34M591.84 1427.11H611.34" stroke="#000" stroke-width="1.72" fill="none"/>
<rect x="589.84" y="1394.25" width="23.5" height="17.14" fill="#EE6677" fill-opacity="0.9" stroke="#000" stroke-width="1.72"/>
<line x1="589.84" x2="613.34" y1="1402.54" y2="1402.54" stroke="#000" stroke-width="3.3"/>
<path d="M663.11 1399.11V1411.68M663.11 1428.54V1438.54M653.36 1399.11H672.86M653.36 1438.54H672.86" stroke="#000" stroke-width="1.72" fill="none"/>
<rect x="651.36" y="1411.68" width="23.5" height="16.86" fill="#0072B2" fill-opacity="0.9" stroke="#000" stroke-width="1.72"/>
<line x1="651.36" x2="674.86" y1="1421.39" y2="1421.39" stroke="#000" stroke-width="3.3"/>
<path d="M690.49 1402.25V1411.96M690.49 1419.96V1427.96M680.74 1402.25H700.24M680.74 1427.96H700.24" stroke="#000" stroke-width="1.72" fill="none"/>
<rect x="678.74" y="1411.96" width="23.5" height="8" fill="#66CCEE" fill-opacity="0.9" stroke="#000" stroke-width="1.72"/>
<line x1="678.74" x2="702.24" y1="1416.25" y2="1416.25" stroke="#000" stroke-width="3.3"/>
<path d="M717.87 1347.39V1371.68M717.87 1393.68V1411.11M708.12 1347.39H727.62M708.12 1411.11H727.62" stroke="#000" stroke-width="1.72" fill="none"/>
<rect x="706.12" y="1371.68" width="23.5" height="22" fill="#228833" fill-opacity="0.9" stroke="#000" stroke-width="1.72"/>
<line x1="706.12" x2="729.62" y1="1382.54" y2="1382.54" stroke="#000" stroke-width="3.3"/>
<path d="M745.25 1344.54V1368.25M745.25 1392.54V1410.25M735.5 1344.54H755M735.5 1410.25H755" stroke="#000" stroke-width="1.72" fill="none"/>
<rect x="733.5" y="1368.25" width="23.5" height="24.29" fill="#F5C710" fill-opacity="0.9" stroke="#000" stroke-width="1.72"/>
<line x1="733.5" x2="757" y1="1386.54" y2="1386.54" stroke="#000" stroke-width="3.3"/>
<path d="M772.63 1372.54V1390.54M772.63 1409.11V1421.11M762.88 1372.54H782.38M762.88 1421.11H782.38" stroke="#000" stroke-width="1.72" fill="none"/>
<rect x="760.88" y="1390.54" width="23.5" height="18.57" fill="#EE6677" fill-opacity="0.9" stroke="#000" stroke-width="1.72"/>
<line x1="760.88" x2="784.38" y1="1398.54" y2="1398.54" stroke="#000" stroke-width="3.3"/>
<path d="M834.15 1395.96V1407.96M834.15 1427.11V1438.54M824.4 1395.96H843.9M824.4 1438.54H843.9" stroke="#000" stroke-width="1.72" fill="none"/>
<rect x="822.4" y="1407.96" width="23.5" height="19.14" fill="#0072B2" fill-opacity="0.9" stroke="#000" stroke-width="1.72"/>
<line x1="822.4" x2="845.9" y1="1420.25" y2="1420.25" stroke="#000" stroke-width="3.3"/>
<path d="M861.53 1395.96V1408.82M861.53 1417.96V1425.96M851.78 1395.96H871.28M851.78 1425.96H871.28" stroke="#000" stroke-width="1.72" fill="none"/>
<rect x="849.78" y="1408.82" width="23.5" height="9.14" fill="#66CCEE" fill-opacity="0.9" stroke="#000" stroke-width="1.72"/>
<line x1="849.78" x2="873.28" y1="1415.11" y2="1415.11" stroke="#000" stroke-width="3.3"/>
<path d="M888.91 1350.25V1374.25M888.91 1397.11V1411.39M879.16 1350.25H898.66M879.16 1411.39H898.66" stroke="#000" stroke-width="1.72" fill="none"/>
<rect x="877.16" y="1374.25" width="23.5" height="22.86" fill="#228833" fill-opacity="0.9" stroke="#000" stroke-width="1.72"/>
<line x1="877.16" x2="900.66" y1="1385.39" y2="1385.39" stroke="#000" stroke-width="3.3"/>
<path d="M916.29 1351.39V1374.82M916.29 1394.54V1410.54M906.54 1351.39H926.04M906.54 1410.54H926.04" stroke="#000" stroke-width="1.72" fill="none"/>
<rect x="904.54" y="1374.82" width="23.5" height="19.71" fill="#F5C710" fill-opacity="0.9" stroke="#000" stroke-width="1.72"/>
<line x1="904.54" x2="928.04" y1="1385.96" y2="1385.96" stroke="#000" stroke-width="3.3"/>
<path d="M943.67 1367.11V1389.68M943.67 1407.11V1420.25M933.92 1367.11H953.42M933.92 1420.25H953.42" stroke="#000" stroke-width="1.72" fill="none"/>
<rect x="931.92" y="1389.68" width="23.5" height="17.43" fill="#EE6677" fill-opacity="0.9" stroke="#000" stroke-width="1.72"/>
<line x1="931.92" x2="955.42" y1="1396.25" y2="1396.25" stroke="#000" stroke-width="3.3"/>
<path d="M1005.19 1392.82V1405.96M1005.19 1425.39V1438.25M995.44 1392.82H1014.94M995.44 1438.25H1014.94" stroke="#000" stroke-width="1.72" fill="none"/>
<rect x="993.44" y="1405.96" width="23.5" height="19.43" fill="#0072B2" fill-opacity="0.9" stroke="#000" stroke-width="1.72"/>
<line x1="993.44" x2="1016.94" y1="1418.25" y2="1418.25" stroke="#000" stroke-width="3.3"/>
<path d="M1032.57 1396.25V1406.82M1032.57 1416.25V1423.96M1022.82 1396.25H1042.32M1022.82 1423.96H1042.32" stroke="#000" stroke-width="1.72" fill="none"/>
<rect x="1020.82" y="1406.82" width="23.5" height="9.43" fill="#66CCEE" fill-opacity="0.9" stroke="#000" stroke-width="1.72"/>
<line x1="1020.82" x2="1044.32" y1="1413.68" y2="1413.68" stroke="#000" stroke-width="3.3"/>
<path d="M1059.95 1351.39V1378.54M1059.95 1397.68V1410.54M1050.2 1351.39H1069.7M1050.2 1410.54H1069.7" stroke="#000" stroke-width="1.72" fill="none"/>
<rect x="1048.2" y="1378.54" width="23.5" height="19.14" fill="#228833" fill-opacity="0.9" stroke="#000" stroke-width="1.72"/>
<line x1="1048.2" x2="1071.7" y1="1387.96" y2="1387.96" stroke="#000" stroke-width="3.3"/>
<path d="M1087.33 1351.39V1378.54M1087.33 1397.68V1410.54M1077.58 1351.39H1097.08M1077.58 1410.54H1097.08" stroke="#000" stroke-width="1.72" fill="none"/>
<rect x="1075.58" y="1378.54" width="23.5" height="19.14" fill="#F5C710" fill-opacity="0.9" stroke="#000" stroke-width="1.72"/>
<line x1="1075.58" x2="1099.08" y1="1387.96" y2="1387.96" stroke="#000" stroke-width="3.3"/>
<path d="M1114.71 1355.39V1385.11M1114.71 1407.39V1420.54M1104.96 1355.39H1124.46M1104.96 1420.54H1124.46" stroke="#000" stroke-width="1.72" fill="none"/>
<rect x="1102.96" y="1385.11" width="23.5" height="22.29" fill="#EE6677" fill-opacity="0.9" stroke="#000" stroke-width="1.72"/>
<line x1="1102.96" x2="1126.46" y1="1393.39" y2="1393.39" stroke="#000" stroke-width="3.3"/>
<path d="M1176.23 1391.96V1405.11M1176.23 1424.54V1437.96M1166.48 1391.96H1185.98M1166.48 1437.96H1185.98" stroke="#000" stroke-width="1.72" fill="none"/>
<rect x="1164.48" y="1405.11" width="23.5" height="19.43" fill="#0072B2" fill-opacity="0.9" stroke="#000" stroke-width="1.72"/>
<line x1="1164.48" x2="1187.98" y1="1419.11" y2="1419.11" stroke="#000" stroke-width="3.3"/>
<path d="M1203.61 1393.39V1405.39M1203.61 1415.39V1422.25M1193.86 1393.39H1213.36M1193.86 1422.25H1213.36" stroke="#000" stroke-width="1.72" fill="none"/>
<rect x="1191.86" y="1405.39" width="23.5" height="10" fill="#66CCEE" fill-opacity="0.9" stroke="#000" stroke-width="1.72"/>
<line x1="1191.86" x2="1215.36" y1="1411.68" y2="1411.68" stroke="#000" stroke-width="3.3"/>
<path d="M1230.99 1352.54V1378.82M1230.99 1395.96V1412.25M1221.24 1352.54H1240.74M1221.24 1412.25H1240.74" stroke="#000" stroke-width="1.72" fill="none"/>
<rect x="1219.24" y="1378.82" width="23.5" height="17.14" fill="#228833" fill-opacity="0.9" stroke="#000" stroke-width="1.72"/>
<line x1="1219.24" x2="1242.74" y1="1390.25" y2="1390.25" stroke="#000" stroke-width="3.3"/>
<path d="M1258.37 1357.11V1381.11M1258.37 1398.25V1409.68M1248.62 1357.11H1268.12M1248.62 1409.68H1268.12" stroke="#000" stroke-width="1.72" fill="none"/>
<rect x="1246.62" y="1381.11" width="23.5" height="17.14" fill="#F5C710" fill-opacity="0.9" stroke="#000" stroke-width="1.72"/>
<line x1="1246.62" x2="1270.12" y1="1391.68" y2="1391.68" stroke="#000" stroke-width="3.3"/>
<path d="M1285.75 1345.68V1381.39M1285.75 1406.25V1419.39M1276 1345.68H1295.5M1276 1419.39H1295.5" stroke="#000" stroke-width="1.72" fill="none"/>
<rect x="1274" y="1381.39" width="23.5" height="24.86" fill="#EE6677" fill-opacity="0.9" stroke="#000" stroke-width="1.72"/>
<line x1="1274" x2="1297.5" y1="1394.82" y2="1394.82" stroke="#000" stroke-width="3.3"/>
<path d="M1347.27 1379.96V1404.25M1347.27 1424.54V1437.11M1337.52 1379.96H1357.02M1337.52 1437.11H1357.02" stroke="#000" stroke-width="1.72" fill="none"/>
<rect x="1335.52" y="1404.25" width="23.5" height="20.29" fill="#0072B2" fill-opacity="0.9" stroke="#000" stroke-width="1.72"/>
<line x1="1335.52" x2="1359.02" y1="1414.25" y2="1414.25" stroke="#000" stroke-width="3.3"/>
<path d="M1374.65 1389.39V1401.96M1374.65 1415.68V1431.96M1364.9 1389.39H1384.4M1364.9 1431.96H1384.4" stroke="#000" stroke-width="1.72" fill="none"/>
<rect x="1362.9" y="1401.96" width="23.5" height="13.71" fill="#66CCEE" fill-opacity="0.9" stroke="#000" stroke-width="1.72"/>
<line x1="1362.9" x2="1386.4" y1="1409.96" y2="1409.96" stroke="#000" stroke-width="3.3"/>
<path d="M1402.03 1365.11V1382.82M1402.03 1400.54V1415.39M1392.28 1365.11H1411.78M1392.28 1415.39H1411.78" stroke="#000" stroke-width="1.72" fill="none"/>
<rect x="1390.28" y="1382.82" width="23.5" height="17.71" fill="#228833" fill-opacity="0.9" stroke="#000" stroke-width="1.72"/>
<line x1="1390.28" x2="1413.78" y1="1391.68" y2="1391.68" stroke="#000" stroke-width="3.3"/>
<path d="M1429.41 1362.82V1386.25M1429.41 1401.39V1412.82M1419.66 1362.82H1439.16M1419.66 1412.82H1439.16" stroke="#000" stroke-width="1.72" fill="none"/>
<rect x="1417.66" y="1386.25" width="23.5" height="15.14" fill="#F5C710" fill-opacity="0.9" stroke="#000" stroke-width="1.72"/>
<line x1="1417.66" x2="1441.16" y1="1392.54" y2="1392.54" stroke="#000" stroke-width="3.3"/>
<path d="M1456.79 1347.96V1371.96M1456.79 1401.68V1419.11M1447.04 1347.96H1466.54M1447.04 1419.11H1466.54" stroke="#000" stroke-width="1.72" fill="none"/>
<rect x="1445.04" y="1371.96" width="23.5" height="29.71" fill="#EE6677" fill-opacity="0.9" stroke="#000" stroke-width="1.72"/>
<line x1="1445.04" x2="1468.54" y1="1391.39" y2="1391.39" stroke="#000" stroke-width="3.3"/>
<path d="M1518.31 1380.54V1401.96M1518.31 1421.68V1437.96M1508.56 1380.54H1528.06M1508.56 1437.96H1528.06" stroke="#000" stroke-width="1.72" fill="none"/>
<rect x="1506.56" y="1401.96" width="23.5" height="19.71" fill="#0072B2" fill-opacity="0.9" stroke="#000" stroke-width="1.72"/>
<line x1="1506.56" x2="1530.06" y1="1412.25" y2="1412.25" stroke="#000" stroke-width="3.3"/>
<path d="M1545.69 1373.11V1397.96M1545.69 1414.54V1433.39M1535.94 1373.11H1555.44M1535.94 1433.39H1555.44" stroke="#000" stroke-width="1.72" fill="none"/>
<rect x="1533.94" y="1397.96" width="23.5" height="16.57" fill="#66CCEE" fill-opacity="0.9" stroke="#000" stroke-width="1.72"/>
<line x1="1533.94" x2="1557.44" y1="1410.82" y2="1410.82" stroke="#000" stroke-width="3.3"/>
<path d="M1573.07 1367.39V1384.25M1573.07 1404.25V1417.96M1563.32 1367.39H1582.82M1563.32 1417.96H1582.82" stroke="#000" stroke-width="1.72" fill="none"/>
<rect x="1561.32" y="1384.25" width="23.5" height="20" fill="#228833" fill-opacity="0.9" stroke="#000" stroke-width="1.72"/>
<line x1="1561.32" x2="1584.82" y1="1392.54" y2="1392.54" stroke="#000" stroke-width="3.3"/>
<path d="M1600.45 1357.68V1385.39M1600.45 1403.68V1416.82M1590.7 1357.68H1610.2M1590.7 1416.82H1610.2" stroke="#000" stroke-width="1.72" fill="none"/>
<rect x="1588.7" y="1385.39" width="23.5" height="18.29" fill="#F5C710" fill-opacity="0.9" stroke="#000" stroke-width="1.72"/>
<line x1="1588.7" x2="1612.2" y1="1394.25" y2="1394.25" stroke="#000" stroke-width="3.3"/>
<path d="M1627.83 1345.96V1368.25M1627.83 1400.25V1418.25M1618.08 1345.96H1637.58M1618.08 1418.25H1637.58" stroke="#000" stroke-width="1.72" fill="none"/>
<rect x="1616.08" y="1368.25" width="23.5" height="32" fill="#EE6677" fill-opacity="0.9" stroke="#000" stroke-width="1.72"/>
<line x1="1616.08" x2="1639.58" y1="1391.39" y2="1391.39" stroke="#000" stroke-width="3.3"/>
<path d="M1689.35 1380.54V1397.68M1689.35 1417.11V1440.82M1679.6 1380.54H1699.1M1679.6 1440.82H1699.1" stroke="#000" stroke-width="1.72" fill="none"/>
<rect x="1677.6" y="1397.68" width="23.5" height="19.43" fill="#0072B2" fill-opacity="0.9" stroke="#000" stroke-width="1.72"/>
<line x1="1677.6" x2="1701.1" y1="1409.68" y2="1409.68" stroke="#000" stroke-width="3.3"/>
<path d="M1716.73 1378.54V1395.11M1716.73 1410.54V1433.96M1706.98 1378.54H1726.48M1706.98 1433.96H1726.48" stroke="#000" stroke-width="1.72" fill="none"/>
<rect x="1704.98" y="1395.11" width="23.5" height="15.43" fill="#66CCEE" fill-opacity="0.9" stroke="#000" stroke-width="1.72"/>
<line x1="1704.98" x2="1728.48" y1="1405.68" y2="1405.68" stroke="#000" stroke-width="3.3"/>
<path d="M1744.11 1362.25V1388.25M1744.11 1406.54V1423.39M1734.36 1362.25H1753.86M1734.36 1423.39H1753.86" stroke="#000" stroke-width="1.72" fill="none"/>
<rect x="1732.36" y="1388.25" width="23.5" height="18.29" fill="#228833" fill-opacity="0.9" stroke="#000" stroke-width="1.72"/>
<line x1="1732.36" x2="1755.86" y1="1397.11" y2="1397.11" stroke="#000" stroke-width="3.3"/>
<path d="M1771.49 1368.54V1386.82M1771.49 1407.11V1421.39M1761.74 1368.54H1781.24M1761.74 1421.39H1781.24" stroke="#000" stroke-width="1.72" fill="none"/>
<rect x="1759.74" y="1386.82" width="23.5" height="20.29" fill="#F5C710" fill-opacity="0.9" stroke="#000" stroke-width="1.72"/>
<line x1="1759.74" x2="1783.24" y1="1397.68" y2="1397.68" stroke="#000" stroke-width="3.3"/>
<path d="M1798.87 1286.82V1352.54M1798.87 1396.82V1420.54M1789.12 1286.82H1808.62M1789.12 1420.54H1808.62" stroke="#000" stroke-width="1.72" fill="none"/>
<rect x="1787.12" y="1352.54" width="23.5" height="44.29" fill="#EE6677" fill-opacity="0.9" stroke="#000" stroke-width="1.72"/>
<line x1="1787.12" x2="1810.62" y1="1385.39" y2="1385.39" stroke="#000" stroke-width="3.3"/>
<path d="M1860.39 1371.96V1394.54M1860.39 1415.39V1441.11M1850.64 1371.96H1870.14M1850.64 1441.11H1870.14" stroke="#000" stroke-width="1.72" fill="none"/>
<rect x="1848.64" y="1394.54" width="23.5" height="20.86" fill="#0072B2" fill-opacity="0.9" stroke="#000" stroke-width="1.72"/>
<line x1="1848.64" x2="1872.14" y1="1411.39" y2="1411.39" stroke="#000" stroke-width="3.3"/>
<path d="M1887.77 1364.25V1391.11M1887.77 1411.11V1432.82M1878.02 1364.25H1897.52M1878.02 1432.82H1897.52" stroke="#000" stroke-width="1.72" fill="none"/>
<rect x="1876.02" y="1391.11" width="23.5" height="20" fill="#66CCEE" fill-opacity="0.9" stroke="#000" stroke-width="1.72"/>
<line x1="1876.02" x2="1899.52" y1="1405.96" y2="1405.96" stroke="#000" stroke-width="3.3"/>
<path d="M1915.15 1362.54V1387.11M1915.15 1407.96V1424.82M1905.4 1362.54H1924.9M1905.4 1424.82H1924.9" stroke="#000" stroke-width="1.72" fill="none"/>
<rect x="1903.4" y="1387.11" width="23.5" height="20.86" fill="#228833" fill-opacity="0.9" stroke="#000" stroke-width="1.72"/>
<line x1="1903.4" x2="1926.9" y1="1396.25" y2="1396.25" stroke="#000" stroke-width="3.3"/>
<path d="M1942.53 1368.82V1383.68M1942.53 1407.39V1424.25M1932.78 1368.82H1952.28M1932.78 1424.25H1952.28" stroke="#000" stroke-width="1.72" fill="none"/>
<rect x="1930.78" y="1383.68" width="23.5" height="23.71" fill="#F5C710" fill-opacity="0.9" stroke="#000" stroke-width="1.72"/>
<line x1="1930.78" x2="1954.28" y1="1397.68" y2="1397.68" stroke="#000" stroke-width="3.3"/>
<path d="M1969.91 1316.25V1346.82M1969.91 1392.25V1419.96M1960.16 1316.25H1979.66M1960.16 1419.96H1979.66" stroke="#000" stroke-width="1.72" fill="none"/>
<rect x="1958.16" y="1346.82" width="23.5" height="45.43" fill="#EE6677" fill-opacity="0.9" stroke="#000" stroke-width="1.72"/>
<line x1="1958.16" x2="1981.66" y1="1381.96" y2="1381.96" stroke="#000" stroke-width="3.3"/>
<path d="M102.3 1161.1V1472.4H2017.8" stroke="#000" stroke-width="2.15" fill="none" stroke-linejoin="miter"/>
<path d="M91.8 1463.05H102.3M91.8 1400.65H102.3M91.8 1338.25H102.3M91.8 1275.85H102.3M91.8 1213.45H102.3M204.75 1472.4V1482.5M375.79 1472.4V1482.5M546.83 1472.4V1482.5M717.87 1472.4V1482.5M888.91 1472.4V1482.5M1059.95 1472.4V1482.5M1230.99 1472.4V1482.5M1402.03 1472.4V1482.5M1573.07 1472.4V1482.5M1744.11 1472.4V1482.5M1915.15 1472.4V1482.5" stroke="#000" stroke-width="2.15" fill="none"/>
<text transform="translate(82.8 1476.85) scale(1 1.06)" text-anchor="end">0</text>
<text transform="translate(82.8 1414.45) scale(1 1.06)" text-anchor="end">1</text>
<text transform="translate(82.8 1352.05) scale(1 1.06)" text-anchor="end">2</text>
<text transform="translate(82.8 1289.65) scale(1 1.06)" text-anchor="end">3</text>
<text transform="translate(82.8 1227.25) scale(1 1.06)" text-anchor="end">4</text>
<text transform="translate(204.75 1517.5) scale(1 1.06)" text-anchor="middle">1</text>
<text transform="translate(375.79 1517.5) scale(1 1.06)" text-anchor="middle">2</text>
<text transform="translate(546.83 1517.5) scale(1 1.06)" text-anchor="middle">4</text>
<text transform="translate(717.87 1517.5) scale(1 1.06)" text-anchor="middle">6</text>
<text transform="translate(888.91 1517.5) scale(1 1.06)" text-anchor="middle">8</text>
<text transform="translate(1059.95 1517.5) scale(1 1.06)" text-anchor="middle">10</text>
<text transform="translate(1230.99 1517.5) scale(1 1.06)" text-anchor="middle">12</text>
<text transform="translate(1402.03 1517.5) scale(1 1.06)" text-anchor="middle">18</text>
<text transform="translate(1573.07 1517.5) scale(1 1.06)" text-anchor="middle">24</text>
<text transform="translate(1744.11 1517.5) scale(1 1.06)" text-anchor="middle">48</text>
<text transform="translate(1915.15 1517.5) scale(1 1.06)" text-anchor="middle">72</text>
<text transform="translate(2038.9 1316.75) rotate(90) scale(1 1.035)" text-anchor="middle">Near South</text>
</g>
<g>
<line x1="102.3" x2="2017.8" y1="1787.45" y2="1787.45" stroke="#7f7f7f" stroke-width="1.8"/>
<path d="M149.99 1780.82V1803.39M149.99 1821.11V1834.54M140.24 1780.82H159.74M140.24 1834.54H159.74" stroke="#000" stroke-width="1.72" fill="none"/>
<rect x="138.24" y="1803.39" width="23.5" height="17.71" fill="#0072B2" fill-opacity="0.9" stroke="#000" stroke-width="1.72"/>
<line x1="138.24" x2="161.74" y1="1814.25" y2="1814.25" stroke="#000" stroke-width="3.3"/>
<path d="M177.37 1713.96V1761.96M177.37 1806.82V1827.11M167.62 1713.96H187.12M167.62 1827.11H187.12" stroke="#000" stroke-width="1.72" fill="none"/>
<rect x="165.62" y="1761.96" width="23.5" height="44.86" fill="#66CCEE" fill-opacity="0.9" stroke="#000" stroke-width="1.72"/>
<line x1="165.62" x2="189.12" y1="1790.82" y2="1790.82" stroke="#000" stroke-width="3.3"/>
<path d="M204.75 1643.39V1723.68M204.75 1777.68V1799.68M195 1643.39H214.5M195 1799.68H214.5" stroke="#000" stroke-width="1.72" fill="none"/>
<rect x="193" y="1723.68" width="23.5" height="54" fill="#228833" fill-opacity="0.9" stroke="#000" stroke-width="1.72"/>
<line x1="193" x2="216.5" y1="1759.39" y2="1759.39" stroke="#000" stroke-width="3.3"/>
<path d="M232.13 1648.25V1716.82M232.13 1778.25V1801.68M222.38 1648.25H241.88M222.38 1801.68H241.88" stroke="#000" stroke-width="1.72" fill="none"/>
<rect x="220.38" y="1716.82" width="23.5" height="61.43" fill="#F5C710" fill-opacity="0.9" stroke="#000" stroke-width="1.72"/>
<line x1="220.38" x2="243.88" y1="1759.11" y2="1759.11" stroke="#000" stroke-width="3.3"/>
<path d="M259.51 1789.96V1811.68M259.51 1826.54V1835.39M249.76 1789.96H269.26M249.76 1835.39H269.26" stroke="#000" stroke-width="1.72" fill="none"/>
<rect x="247.76" y="1811.68" width="23.5" height="14.86" fill="#EE6677" fill-opacity="0.9" stroke="#000" stroke-width="1.72"/>
<line x1="247.76" x2="271.26" y1="1821.39" y2="1821.39" stroke="#000" stroke-width="3.3"/>
<path d="M321.03 1778.25V1798.25M321.03 1817.11V1830.25M311.28 1778.25H330.78M311.28 1830.25H330.78" stroke="#000" stroke-width="1.72" fill="none"/>
<rect x="309.28" y="1798.25" width="23.5" height="18.86" fill="#0072B2" fill-opacity="0.9" stroke="#000" stroke-width="1.72"/>
<line x1="309.28" x2="332.78" y1="1811.96" y2="1811.96" stroke="#000" stroke-width="3.3"/>
<path d="M348.41 1702.82V1756.54M348.41 1802.82V1829.39M338.66 1702.82H358.16M338.66 1829.39H358.16" stroke="#000" stroke-width="1.72" fill="none"/>
<rect x="336.66" y="1756.54" width="23.5" height="46.29" fill="#66CCEE" fill-opacity="0.9" stroke="#000" stroke-width="1.72"/>
<line x1="336.66" x2="360.16" y1="1787.11" y2="1787.11" stroke="#000" stroke-width="3.3"/>
<path d="M375.79 1657.96V1727.96M375.79 1783.11V1810.25M366.04 1657.96H385.54M366.04 1810.25H385.54" stroke="#000" stroke-width="1.72" fill="none"/>
<rect x="364.04" y="1727.96" width="23.5" height="55.14" fill="#228833" fill-opacity="0.9" stroke="#000" stroke-width="1.72"/>
<line x1="364.04" x2="387.54" y1="1760.25" y2="1760.25" stroke="#000" stroke-width="3.3"/>
<path d="M403.17 1659.39V1722.54M403.17 1784.25V1810.25M393.42 1659.39H412.92M393.42 1810.25H412.92" stroke="#000" stroke-width="1.72" fill="none"/>
<rect x="391.42" y="1722.54" width="23.5" height="61.71" fill="#F5C710" fill-opacity="0.9" stroke="#000" stroke-width="1.72"/>
<line x1="391.42" x2="414.92" y1="1761.11" y2="1761.11" stroke="#000" stroke-width="3.3"/>
<path d="M430.55 1778.25V1803.96M430.55 1821.39V1831.96M420.8 1778.25H440.3M420.8 1831.96H440.3" stroke="#000" stroke-width="1.72" fill="none"/>
<rect x="418.8" y="1803.96" width="23.5" height="17.43" fill="#EE6677" fill-opacity="0.9" stroke="#000" stroke-width="1.72"/>
<line x1="418.8" x2="442.3" y1="1813.96" y2="1813.96" stroke="#000" stroke-width="3.3"/>
<path d="M492.07 1765.11V1789.11M492.07 1813.68V1825.39M482.32 1765.11H501.82M482.32 1825.39H501.82" stroke="#000" stroke-width="1.72" fill="none"/>
<rect x="480.32" y="1789.11" width="23.5" height="24.57" fill="#0072B2" fill-opacity="0.9" stroke="#000" stroke-width="1.72"/>
<line x1="480.32" x2="503.82" y1="1806.54" y2="1806.54" stroke="#000" stroke-width="3.3"/>
<path d="M519.45 1714.54V1761.96M519.45 1798.82V1830.54M509.7 1714.54H529.2M509.7 1830.54H529.2" stroke="#000" stroke-width="1.72" fill="none"/>
<rect x="507.7" y="1761.96" width="23.5" height="36.86" fill="#66CCEE" fill-opacity="0.9" stroke="#000" stroke-width="1.72"/>
<line x1="507.7" x2="531.2" y1="1783.39" y2="1783.39" stroke="#000" stroke-width="3.3"/>
<path d="M546.83 1696.54V1748.25M546.83 1790.54V1823.96M537.08 1696.54H556.58M537.08 1823.96H556.58" stroke="#000" stroke-width="1.72" fill="none"/>
<rect x="535.08" y="1748.25" width="23.5" height="42.29" fill="#228833" fill-opacity="0.9" stroke="#000" stroke-width="1.72"/>
<line x1="535.08" x2="558.58" y1="1770.54" y2="1770.54" stroke="#000" stroke-width="3.3"/>
<path d="M574.21 1699.68V1748.82M574.21 1791.39V1822.82M564.46 1699.68H583.96M564.46 1822.82H583.96" stroke="#000" stroke-width="1.72" fill="none"/>
<rect x="562.46" y="1748.82" width="23.5" height="42.57" fill="#F5C710" fill-opacity="0.9" stroke="#000" stroke-width="1.72"/>
<line x1="562.46" x2="585.96" y1="1769.11" y2="1769.11" stroke="#000" stroke-width="3.3"/>
<path d="M601.59 1772.25V1795.96M601.59 1814.54V1831.68M591.84 1772.25H611.34M591.84 1831.68H611.34" stroke="#000" stroke-width="1.72" fill="none"/>
<rect x="589.84" y="1795.96" width="23.5" height="18.57" fill="#EE6677" fill-opacity="0.9" stroke="#000" stroke-width="1.72"/>
<line x1="589.84" x2="613.34" y1="1806.25" y2="1806.25" stroke="#000" stroke-width="3.3"/>
<path d="M663.11 1756.25V1786.25M663.11 1809.11V1824.54M653.36 1756.25H672.86M653.36 1824.54H672.86" stroke="#000" stroke-width="1.72" fill="none"/>
<rect x="651.36" y="1786.25" width="23.5" height="22.86" fill="#0072B2" fill-opacity="0.9" stroke="#000" stroke-width="1.72"/>
<line x1="651.36" x2="674.86" y1="1800.25" y2="1800.25" stroke="#000" stroke-width="3.3"/>
<path d="M690.49 1718.54V1762.54M690.49 1795.11V1830.25M680.74 1718.54H700.24M680.74 1830.25H700.24" stroke="#000" stroke-width="1.72" fill="none"/>
<rect x="678.74" y="1762.54" width="23.5" height="32.57" fill="#66CCEE" fill-opacity="0.9" stroke="#000" stroke-width="1.72"/>
<line x1="678.74" x2="702.24" y1="1779.96" y2="1779.96" stroke="#000" stroke-width="3.3"/>
<path d="M717.87 1693.68V1753.11M717.87 1794.25V1829.11M708.12 1693.68H727.62M708.12 1829.11H727.62" stroke="#000" stroke-width="1.72" fill="none"/>
<rect x="706.12" y="1753.11" width="23.5" height="41.14" fill="#228833" fill-opacity="0.9" stroke="#000" stroke-width="1.72"/>
<line x1="706.12" x2="729.62" y1="1778.82" y2="1778.82" stroke="#000" stroke-width="3.3"/>
<path d="M745.25 1691.11V1751.96M745.25 1795.39V1828.54M735.5 1691.11H755M735.5 1828.54H755" stroke="#000" stroke-width="1.72" fill="none"/>
<rect x="733.5" y="1751.96" width="23.5" height="43.43" fill="#F5C710" fill-opacity="0.9" stroke="#000" stroke-width="1.72"/>
<line x1="733.5" x2="757" y1="1778.54" y2="1778.54" stroke="#000" stroke-width="3.3"/>
<path d="M772.63 1759.39V1787.39M772.63 1808.54V1829.96M762.88 1759.39H782.38M762.88 1829.96H782.38" stroke="#000" stroke-width="1.72" fill="none"/>
<rect x="760.88" y="1787.39" width="23.5" height="21.14" fill="#EE6677" fill-opacity="0.9" stroke="#000" stroke-width="1.72"/>
<line x1="760.88" x2="784.38" y1="1799.96" y2="1799.96" stroke="#000" stroke-width="3.3"/>
<path d="M834.15 1748.25V1781.68M834.15 1806.82V1823.96M824.4 1748.25H843.9M824.4 1823.96H843.9" stroke="#000" stroke-width="1.72" fill="none"/>
<rect x="822.4" y="1781.68" width="23.5" height="25.14" fill="#0072B2" fill-opacity="0.9" stroke="#000" stroke-width="1.72"/>
<line x1="822.4" x2="845.9" y1="1795.96" y2="1795.96" stroke="#000" stroke-width="3.3"/>
<path d="M861.53 1718.82V1761.96M861.53 1792.82V1832.82M851.78 1718.82H871.28M851.78 1832.82H871.28" stroke="#000" stroke-width="1.72" fill="none"/>
<rect x="849.78" y="1761.96" width="23.5" height="30.86" fill="#66CCEE" fill-opacity="0.9" stroke="#000" stroke-width="1.72"/>
<line x1="849.78" x2="873.28" y1="1778.82" y2="1778.82" stroke="#000" stroke-width="3.3"/>
<path d="M888.91 1707.68V1757.96M888.91 1796.82V1833.11M879.16 1707.68H898.66M879.16 1833.11H898.66" stroke="#000" stroke-width="1.72" fill="none"/>
<rect x="877.16" y="1757.96" width="23.5" height="38.86" fill="#228833" fill-opacity="0.9" stroke="#000" stroke-width="1.72"/>
<line x1="877.16" x2="900.66" y1="1781.68" y2="1781.68" stroke="#000" stroke-width="3.3"/>
<path d="M916.29 1703.11V1757.68M916.29 1798.25V1832.25M906.54 1703.11H926.04M906.54 1832.25H926.04" stroke="#000" stroke-width="1.72" fill="none"/>
<rect x="904.54" y="1757.68" width="23.5" height="40.57" fill="#F5C710" fill-opacity="0.9" stroke="#000" stroke-width="1.72"/>
<line x1="904.54" x2="928.04" y1="1782.25" y2="1782.25" stroke="#000" stroke-width="3.3"/>
<path d="M943.67 1751.11V1780.82M943.67 1803.96V1830.82M933.92 1751.11H953.42M933.92 1830.82H953.42" stroke="#000" stroke-width="1.72" fill="none"/>
<rect x="931.92" y="1780.82" width="23.5" height="23.14" fill="#EE6677" fill-opacity="0.9" stroke="#000" stroke-width="1.72"/>
<line x1="931.92" x2="955.42" y1="1795.11" y2="1795.11" stroke="#000" stroke-width="3.3"/>
<path d="M1005.19 1739.96V1779.11M1005.19 1805.11V1823.96M995.44 1739.96H1014.94M995.44 1823.96H1014.94" stroke="#000" stroke-width="1.72" fill="none"/>
<rect x="993.44" y="1779.11" width="23.5" height="26" fill="#0072B2" fill-opacity="0.9" stroke="#000" stroke-width="1.72"/>
<line x1="993.44" x2="1016.94" y1="1793.39" y2="1793.39" stroke="#000" stroke-width="3.3"/>
<path d="M1032.57 1714.82V1759.39M1032.57 1791.11V1834.54M1022.82 1714.82H1042.32M1022.82 1834.54H1042.32" stroke="#000" stroke-width="1.72" fill="none"/>
<rect x="1020.82" y="1759.39" width="23.5" height="31.71" fill="#66CCEE" fill-opacity="0.9" stroke="#000" stroke-width="1.72"/>
<line x1="1020.82" x2="1044.32" y1="1777.39" y2="1777.39" stroke="#000" stroke-width="3.3"/>
<path d="M1059.95 1715.39V1761.11M1059.95 1799.39V1835.96M1050.2 1715.39H1069.7M1050.2 1835.96H1069.7" stroke="#000" stroke-width="1.72" fill="none"/>
<rect x="1048.2" y="1761.11" width="23.5" height="38.29" fill="#228833" fill-opacity="0.9" stroke="#000" stroke-width="1.72"/>
<line x1="1048.2" x2="1071.7" y1="1785.11" y2="1785.11" stroke="#000" stroke-width="3.3"/>
<path d="M1087.33 1715.39V1761.11M1087.33 1799.39V1835.96M1077.58 1715.39H1097.08M1077.58 1835.96H1097.08" stroke="#000" stroke-width="1.72" fill="none"/>
<rect x="1075.58" y="1761.11" width="23.5" height="38.29" fill="#F5C710" fill-opacity="0.9" stroke="#000" stroke-width="1.72"/>
<line x1="1075.58" x2="1099.08" y1="1785.11" y2="1785.11" stroke="#000" stroke-width="3.3"/>
<path d="M1114.71 1745.11V1778.54M1114.71 1800.54V1833.11M1104.96 1745.11H1124.46M1104.96 1833.11H1124.46" stroke="#000" stroke-width="1.72" fill="none"/>
<rect x="1102.96" y="1778.54" width="23.5" height="22" fill="#EE6677" fill-opacity="0.9" stroke="#000" stroke-width="1.72"/>
<line x1="1102.96" x2="1126.46" y1="1791.68" y2="1791.68" stroke="#000" stroke-width="3.3"/>
<path d="M1176.23 1733.68V1776.25M1176.23 1804.54V1823.39M1166.48 1733.68H1185.98M1166.48 1823.39H1185.98" stroke="#000" stroke-width="1.72" fill="none"/>
<rect x="1164.48" y="1776.25" width="23.5" height="28.29" fill="#0072B2" fill-opacity="0.9" stroke="#000" stroke-width="1.72"/>
<line x1="1164.48" x2="1187.98" y1="1792.25" y2="1792.25" stroke="#000" stroke-width="3.3"/>
<path d="M1203.61 1711.11V1758.82M1203.61 1791.39V1835.96M1193.86 1711.11H1213.36M1193.86 1835.96H1213.36" stroke="#000" stroke-width="1.72" fill="none"/>
<rect x="1191.86" y="1758.82" width="23.5" height="32.57" fill="#66CCEE" fill-opacity="0.9" stroke="#000" stroke-width="1.72"/>
<line x1="1191.86" x2="1215.36" y1="1775.96" y2="1775.96" stroke="#000" stroke-width="3.3"/>
<path d="M1230.99 1714.82V1764.25M1230.99 1801.11V1837.68M1221.24 1714.82H1240.74M1221.24 1837.68H1240.74" stroke="#000" stroke-width="1.72" fill="none"/>
<rect x="1219.24" y="1764.25" width="23.5" height="36.86" fill="#228833" fill-opacity="0.9" stroke="#000" stroke-width="1.72"/>
<line x1="1219.24" x2="1242.74" y1="1786.82" y2="1786.82" stroke="#000" stroke-width="3.3"/>
<path d="M1258.37 1712.25V1762.82M1258.37 1801.68V1837.11M1248.62 1712.25H1268.12M1248.62 1837.11H1268.12" stroke="#000" stroke-width="1.72" fill="none"/>
<rect x="1246.62" y="1762.82" width="23.5" height="38.86" fill="#F5C710" fill-opacity="0.9" stroke="#000" stroke-width="1.72"/>
<line x1="1246.62" x2="1270.12" y1="1786.54" y2="1786.54" stroke="#000" stroke-width="3.3"/>
<path d="M1285.75 1744.82V1776.25M1285.75 1797.96V1828.54M1276 1744.82H1295.5M1276 1828.54H1295.5" stroke="#000" stroke-width="1.72" fill="none"/>
<rect x="1274" y="1776.25" width="23.5" height="21.71" fill="#EE6677" fill-opacity="0.9" stroke="#000" stroke-width="1.72"/>
<line x1="1274" x2="1297.5" y1="1789.68" y2="1789.68" stroke="#000" stroke-width="3.3"/>
<path d="M1347.27 1724.25V1769.39M1347.27 1801.68V1823.96M1337.52 1724.25H1357.02M1337.52 1823.96H1357.02" stroke="#000" stroke-width="1.72" fill="none"/>
<rect x="1335.52" y="1769.39" width="23.5" height="32.29" fill="#0072B2" fill-opacity="0.9" stroke="#000" stroke-width="1.72"/>
<line x1="1335.52" x2="1359.02" y1="1787.96" y2="1787.96" stroke="#000" stroke-width="3.3"/>
<path d="M1374.65 1709.39V1755.68M1374.65 1789.39V1837.39M1364.9 1709.39H1384.4M1364.9 1837.39H1384.4" stroke="#000" stroke-width="1.72" fill="none"/>
<rect x="1362.9" y="1755.68" width="23.5" height="33.71" fill="#66CCEE" fill-opacity="0.9" stroke="#000" stroke-width="1.72"/>
<line x1="1362.9" x2="1386.4" y1="1775.96" y2="1775.96" stroke="#000" stroke-width="3.3"/>
<path d="M1402.03 1722.54V1771.96M1402.03 1805.39V1841.11M1392.28 1722.54H1411.78M1392.28 1841.11H1411.78" stroke="#000" stroke-width="1.72" fill="none"/>
<rect x="1390.28" y="1771.96" width="23.5" height="33.43" fill="#228833" fill-opacity="0.9" stroke="#000" stroke-width="1.72"/>
<line x1="1390.28" x2="1413.78" y1="1790.25" y2="1790.25" stroke="#000" stroke-width="3.3"/>
<path d="M1429.41 1714.54V1768.25M1429.41 1807.39V1840.25M1419.66 1714.54H1439.16M1419.66 1840.25H1439.16" stroke="#000" stroke-width="1.72" fill="none"/>
<rect x="1417.66" y="1768.25" width="23.5" height="39.14" fill="#F5C710" fill-opacity="0.9" stroke="#000" stroke-width="1.72"/>
<line x1="1417.66" x2="1441.16" y1="1790.54" y2="1790.54" stroke="#000" stroke-width="3.3"/>
<path d="M1456.79 1734.82V1765.96M1456.79 1796.25V1836.54M1447.04 1734.82H1466.54M1447.04 1836.54H1466.54" stroke="#000" stroke-width="1.72" fill="none"/>
<rect x="1445.04" y="1765.96" width="23.5" height="30.29" fill="#EE6677" fill-opacity="0.9" stroke="#000" stroke-width="1.72"/>
<line x1="1445.04" x2="1468.54" y1="1786.25" y2="1786.25" stroke="#000" stroke-width="3.3"/>
<path d="M1518.31 1717.39V1765.11M1518.31 1799.68V1825.96M1508.56 1717.39H1528.06M1508.56 1825.96H1528.06" stroke="#000" stroke-width="1.72" fill="none"/>
<rect x="1506.56" y="1765.11" width="23.5" height="34.57" fill="#0072B2" fill-opacity="0.9" stroke="#000" stroke-width="1.72"/>
<line x1="1506.56" x2="1530.06" y1="1785.96" y2="1785.96" stroke="#000" stroke-width="3.3"/>
<path d="M1545.69 1710.25V1755.11M1545.69 1787.96V1831.11M1535.94 1710.25H1555.44M1535.94 1831.11H1555.44" stroke="#000" stroke-width="1.72" fill="none"/>
<rect x="1533.94" y="1755.11" width="23.5" height="32.86" fill="#66CCEE" fill-opacity="0.9" stroke="#000" stroke-width="1.72"/>
<line x1="1533.94" x2="1557.44" y1="1775.11" y2="1775.11" stroke="#000" stroke-width="3.3"/>
<path d="M1573.07 1735.11V1775.96M1573.07 1807.96V1842.54M1563.32 1735.11H1582.82M1563.32 1842.54H1582.82" stroke="#000" stroke-width="1.72" fill="none"/>
<rect x="1561.32" y="1775.96" width="23.5" height="32" fill="#228833" fill-opacity="0.9" stroke="#000" stroke-width="1.72"/>
<line x1="1561.32" x2="1584.82" y1="1793.39" y2="1793.39" stroke="#000" stroke-width="3.3"/>
<path d="M1600.45 1729.96V1773.39M1600.45 1808.82V1841.68M1590.7 1729.96H1610.2M1590.7 1841.68H1610.2" stroke="#000" stroke-width="1.72" fill="none"/>
<rect x="1588.7" y="1773.39" width="23.5" height="35.43" fill="#F5C710" fill-opacity="0.9" stroke="#000" stroke-width="1.72"/>
<line x1="1588.7" x2="1612.2" y1="1795.39" y2="1795.39" stroke="#000" stroke-width="3.3"/>
<path d="M1627.83 1724.82V1760.82M1627.83 1793.68V1836.82M1618.08 1724.82H1637.58M1618.08 1836.82H1637.58" stroke="#000" stroke-width="1.72" fill="none"/>
<rect x="1616.08" y="1760.82" width="23.5" height="32.86" fill="#EE6677" fill-opacity="0.9" stroke="#000" stroke-width="1.72"/>
<line x1="1616.08" x2="1639.58" y1="1785.11" y2="1785.11" stroke="#000" stroke-width="3.3"/>
<path d="M1689.35 1705.39V1759.96M1689.35 1796.54V1825.39M1679.6 1705.39H1699.1M1679.6 1825.39H1699.1" stroke="#000" stroke-width="1.72" fill="none"/>
<rect x="1677.6" y="1759.96" width="23.5" height="36.57" fill="#0072B2" fill-opacity="0.9" stroke="#000" stroke-width="1.72"/>
<line x1="1677.6" x2="1701.1" y1="1781.11" y2="1781.11" stroke="#000" stroke-width="3.3"/>
<path d="M1716.73 1694.54V1749.11M1716.73 1785.68V1837.68M1706.98 1694.54H1726.48M1706.98 1837.68H1726.48" stroke="#000" stroke-width="1.72" fill="none"/>
<rect x="1704.98" y="1749.11" width="23.5" height="36.57" fill="#66CCEE" fill-opacity="0.9" stroke="#000" stroke-width="1.72"/>
<line x1="1704.98" x2="1728.48" y1="1769.68" y2="1769.68" stroke="#000" stroke-width="3.3"/>
<path d="M1744.11 1740.25V1781.68M1744.11 1811.96V1844.25M1734.36 1740.25H1753.86M1734.36 1844.25H1753.86" stroke="#000" stroke-width="1.72" fill="none"/>
<rect x="1732.36" y="1781.68" width="23.5" height="30.29" fill="#228833" fill-opacity="0.9" stroke="#000" stroke-width="1.72"/>
<line x1="1732.36" x2="1755.86" y1="1799.96" y2="1799.96" stroke="#000" stroke-width="3.3"/>
<path d="M1771.49 1731.39V1779.96M1771.49 1813.68V1843.39M1761.74 1731.39H1781.24M1761.74 1843.39H1781.24" stroke="#000" stroke-width="1.72" fill="none"/>
<rect x="1759.74" y="1779.96" width="23.5" height="33.71" fill="#F5C710" fill-opacity="0.9" stroke="#000" stroke-width="1.72"/>
<line x1="1759.74" x2="1783.24" y1="1801.39" y2="1801.39" stroke="#000" stroke-width="3.3"/>
<path d="M1798.87 1703.68V1752.82M1798.87 1789.68V1836.25M1789.12 1703.68H1808.62M1789.12 1836.25H1808.62" stroke="#000" stroke-width="1.72" fill="none"/>
<rect x="1787.12" y="1752.82" width="23.5" height="36.86" fill="#EE6677" fill-opacity="0.9" stroke="#000" stroke-width="1.72"/>
<line x1="1787.12" x2="1810.62" y1="1779.11" y2="1779.11" stroke="#000" stroke-width="3.3"/>
<path d="M1860.39 1719.96V1760.82M1860.39 1794.54V1826.54M1850.64 1719.96H1870.14M1850.64 1826.54H1870.14" stroke="#000" stroke-width="1.72" fill="none"/>
<rect x="1848.64" y="1760.82" width="23.5" height="33.71" fill="#0072B2" fill-opacity="0.9" stroke="#000" stroke-width="1.72"/>
<line x1="1848.64" x2="1872.14" y1="1773.68" y2="1773.68" stroke="#000" stroke-width="3.3"/>
<path d="M1887.77 1704.25V1751.11M1887.77 1787.68V1838.25M1878.02 1704.25H1897.52M1878.02 1838.25H1897.52" stroke="#000" stroke-width="1.72" fill="none"/>
<rect x="1876.02" y="1751.11" width="23.5" height="36.57" fill="#66CCEE" fill-opacity="0.9" stroke="#000" stroke-width="1.72"/>
<line x1="1876.02" x2="1899.52" y1="1770.54" y2="1770.54" stroke="#000" stroke-width="3.3"/>
<path d="M1915.15 1747.39V1787.68M1915.15 1814.54V1844.82M1905.4 1747.39H1924.9M1905.4 1844.82H1924.9" stroke="#000" stroke-width="1.72" fill="none"/>
<rect x="1903.4" y="1787.68" width="23.5" height="26.86" fill="#228833" fill-opacity="0.9" stroke="#000" stroke-width="1.72"/>
<line x1="1903.4" x2="1926.9" y1="1803.39" y2="1803.39" stroke="#000" stroke-width="3.3"/>
<path d="M1942.53 1747.68V1786.82M1942.53 1817.11V1844.25M1932.78 1747.68H1952.28M1932.78 1844.25H1952.28" stroke="#000" stroke-width="1.72" fill="none"/>
<rect x="1930.78" y="1786.82" width="23.5" height="30.29" fill="#F5C710" fill-opacity="0.9" stroke="#000" stroke-width="1.72"/>
<line x1="1930.78" x2="1954.28" y1="1802.82" y2="1802.82" stroke="#000" stroke-width="3.3"/>
<path d="M1969.91 1701.68V1751.68M1969.91 1788.25V1836.82M1960.16 1701.68H1979.66M1960.16 1836.82H1979.66" stroke="#000" stroke-width="1.72" fill="none"/>
<rect x="1958.16" y="1751.68" width="23.5" height="36.57" fill="#EE6677" fill-opacity="0.9" stroke="#000" stroke-width="1.72"/>
<line x1="1958.16" x2="1981.66" y1="1775.39" y2="1775.39" stroke="#000" stroke-width="3.3"/>
<path d="M102.3 1547.9V1859.2H2017.8" stroke="#000" stroke-width="2.15" fill="none" stroke-linejoin="miter"/>
<path d="M91.8 1849.85H102.3M91.8 1787.45H102.3M91.8 1725.05H102.3M91.8 1662.65H102.3M91.8 1600.25H102.3M204.75 1859.2V1869.3M375.79 1859.2V1869.3M546.83 1859.2V1869.3M717.87 1859.2V1869.3M888.91 1859.2V1869.3M1059.95 1859.2V1869.3M1230.99 1859.2V1869.3M1402.03 1859.2V1869.3M1573.07 1859.2V1869.3M1744.11 1859.2V1869.3M1915.15 1859.2V1869.3" stroke="#000" stroke-width="2.15" fill="none"/>
<text transform="translate(82.8 1863.65) scale(1 1.06)" text-anchor="end">0</text>
<text transform="translate(82.8 1801.25) scale(1 1.06)" text-anchor="end">1</text>
<text transform="translate(82.8 1738.85) scale(1 1.06)" text-anchor="end">2</text>
<text transform="translate(82.8 1676.45) scale(1 1.06)" text-anchor="end">3</text>
<text transform="translate(82.8 1614.05) scale(1 1.06)" text-anchor="end">4</text>
<text transform="translate(204.75 1904.3) scale(1 1.06)" text-anchor="middle">1</text>
<text transform="translate(375.79 1904.3) scale(1 1.06)" text-anchor="middle">2</text>
<text transform="translate(546.83 1904.3) scale(1 1.06)" text-anchor="middle">4</text>
<text transform="translate(717.87 1904.3) scale(1 1.06)" text-anchor="middle">6</text>
<text transform="translate(888.91 1904.3) scale(1 1.06)" text-anchor="middle">8</text>
<text transform="translate(1059.95 1904.3) scale(1 1.06)" text-anchor="middle">10</text>
<text transform="translate(1230.99 1904.3) scale(1 1.06)" text-anchor="middle">12</text>
<text transform="translate(1402.03 1904.3) scale(1 1.06)" text-anchor="middle">18</text>
<text transform="translate(1573.07 1904.3) scale(1 1.06)" text-anchor="middle">24</text>
<text transform="translate(1744.11 1904.3) scale(1 1.06)" text-anchor="middle">48</text>
<text transform="translate(1915.15 1904.3) scale(1 1.06)" text-anchor="middle">72</text>
<text transform="translate(2038.9 1703.55) rotate(90) scale(1 1.035)" text-anchor="middle">Far South</text>
</g>
<text transform="translate(1060.05 1951.5) scale(1 1.05)" text-anchor="middle">Duration [h]</text>
<g transform="translate(36 961.6) rotate(-90)"><text transform="scale(1 1.07)" font-size="39.5">S</text><text transform="translate(24.7 6.9) scale(1 1.07)" font-size="25.8">RG</text><rect x="-1.2" y="-36" width="26.5" height="3" fill="#000"/></g>
<path d="M404.9 2026.7V2060.9M391.9 2026.7H417.9M391.9 2060.9H417.9" stroke="#000" stroke-width="1.72" fill="none"/>
<rect x="388.8" y="2033" width="32.2" height="21.2" fill="#fff"/>
<rect x="388.8" y="2033" width="32.2" height="21.2" fill="#0072B2" fill-opacity="0.9" stroke="#000" stroke-width="1.72"/>
<line x1="388.8" x2="421" y1="2043.6" y2="2043.6" stroke="#000" stroke-width="1.72"/>
<text transform="translate(447.7 2058.2) scale(1 1.065)" font-size="37.3">IMERGv06B</text>
<path d="M698.9 2026.7V2060.9M685.9 2026.7H711.9M685.9 2060.9H711.9" stroke="#000" stroke-width="1.72" fill="none"/>
<rect x="682.8" y="2033" width="32.2" height="21.2" fill="#fff"/>
<rect x="682.8" y="2033" width="32.2" height="21.2" fill="#66CCEE" fill-opacity="0.9" stroke="#000" stroke-width="1.72"/>
<line x1="682.8" x2="715" y1="2043.6" y2="2043.6" stroke="#000" stroke-width="1.72"/>
<text transform="translate(741.7 2058.2) scale(1 1.065)" font-size="37.3">IMERGv07B</text>
<path d="M992.4 2026.7V2060.9M979.4 2026.7H1005.4M979.4 2060.9H1005.4" stroke="#000" stroke-width="1.72" fill="none"/>
<rect x="976.3" y="2033" width="32.2" height="21.2" fill="#fff"/>
<rect x="976.3" y="2033" width="32.2" height="21.2" fill="#228833" fill-opacity="0.9" stroke="#000" stroke-width="1.72"/>
<line x1="976.3" x2="1008.5" y1="2043.6" y2="2043.6" stroke="#000" stroke-width="1.72"/>
<text transform="translate(1035.2 2058.2) scale(1 1.065)" font-size="37.3">ERA5</text>
<path d="M1174.6 2026.7V2060.9M1161.6 2026.7H1187.6M1161.6 2060.9H1187.6" stroke="#000" stroke-width="1.72" fill="none"/>
<rect x="1158.5" y="2033" width="32.2" height="21.2" fill="#fff"/>
<rect x="1158.5" y="2033" width="32.2" height="21.2" fill="#F5C710" fill-opacity="0.9" stroke="#000" stroke-width="1.72"/>
<line x1="1158.5" x2="1190.7" y1="2043.6" y2="2043.6" stroke="#000" stroke-width="1.72"/>
<text transform="translate(1217.4 2058.2) scale(1 1.065)" font-size="37.3">ERA5-Land</text>
<path d="M1453.9 2026.7V2060.9M1440.9 2026.7H1466.9M1440.9 2060.9H1466.9" stroke="#000" stroke-width="1.72" fill="none"/>
<rect x="1437.8" y="2033" width="32.2" height="21.2" fill="#fff"/>
<rect x="1437.8" y="2033" width="32.2" height="21.2" fill="#EE6677" fill-opacity="0.9" stroke="#000" stroke-width="1.72"/>
<line x1="1437.8" x2="1470" y1="2043.6" y2="2043.6" stroke="#000" stroke-width="1.72"/>
<text transform="translate(1496.7 2058.2) scale(1 1.065)" font-size="37.3">CMORPH-CDR</text>
</svg>
</body></html>
